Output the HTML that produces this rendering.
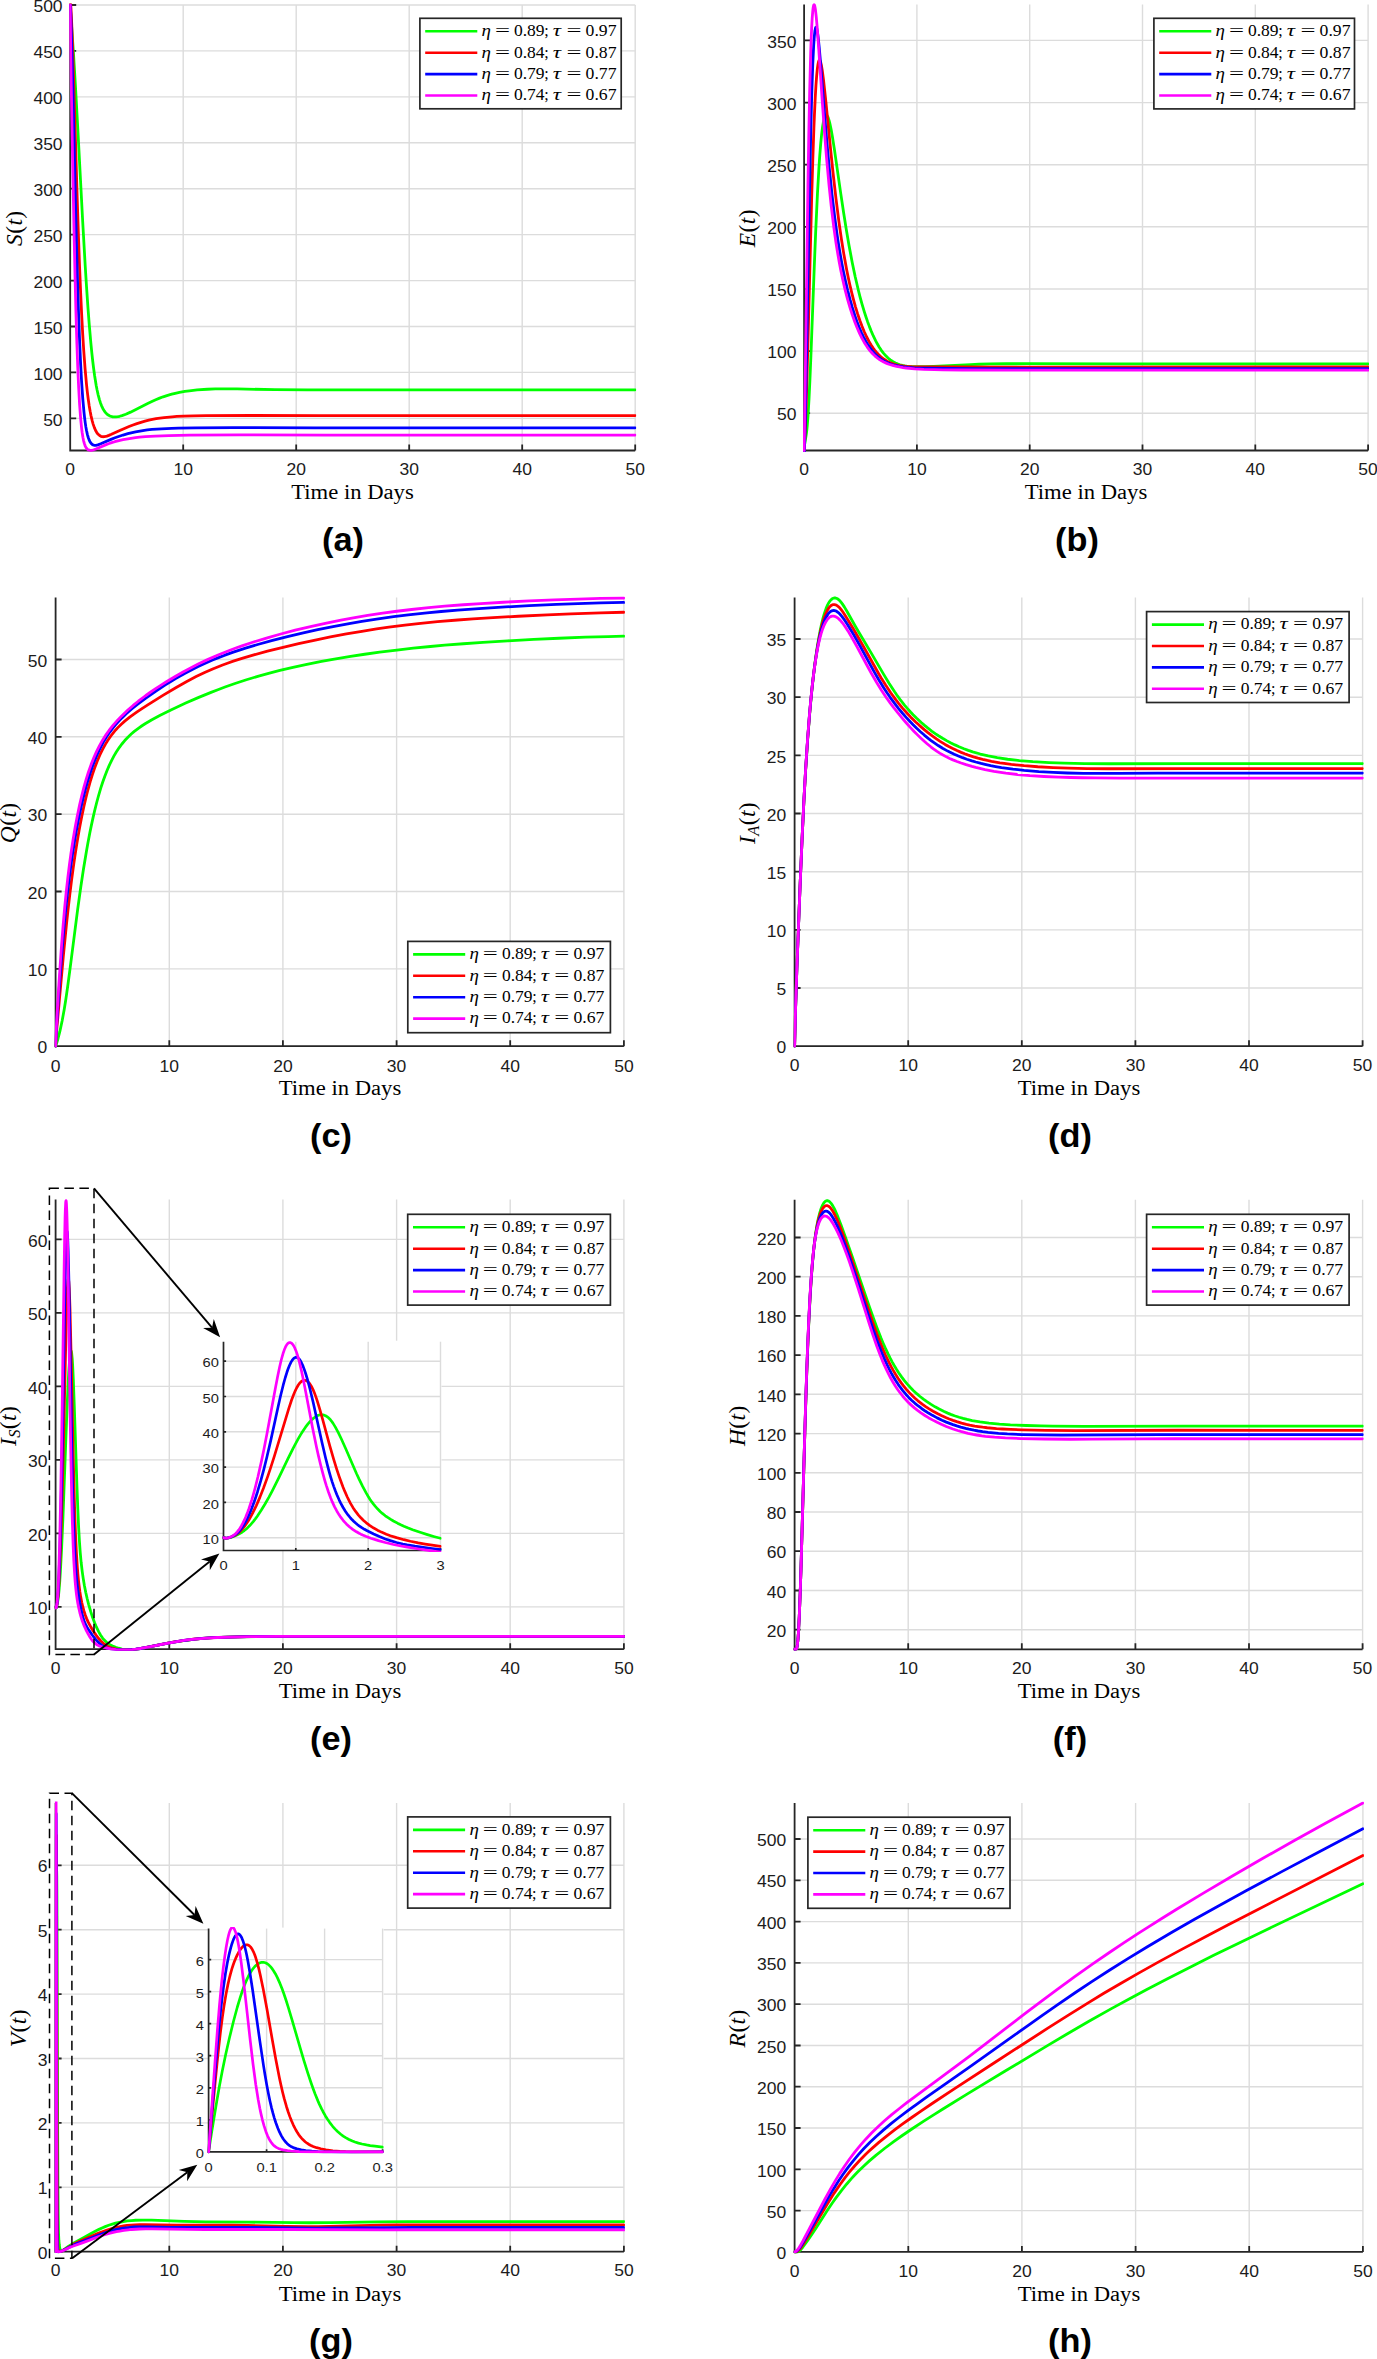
<!DOCTYPE html>
<html><head><meta charset="utf-8"><title>Figure</title>
<style>
html,body{margin:0;padding:0;background:#fff}
svg{display:block}
.tk{font-family:"Liberation Sans",sans-serif;fill:#1c1c1c}
.lg{font-family:"Liberation Serif",serif;font-size:16px;fill:#000}
.it{font-style:italic}
.xl{font-family:"Liberation Serif",serif;font-size:20.5px;fill:#000}
.yl{font-family:"Liberation Serif",serif;font-size:23.5px;fill:#000;font-style:italic;letter-spacing:0.4px}
.up{font-style:normal}
.tag{font-family:"Liberation Sans",sans-serif;font-weight:bold;font-size:33px;fill:#000}
</style></head><body>
<svg width="1377" height="2359" viewBox="0 0 1377 2359">
<rect width="100%" height="100%" fill="#fff"/>
<line x1="183.2" y1="5.0" x2="183.2" y2="450.5" stroke="#dcdcdc" stroke-width="1.4"/>
<line x1="296.2" y1="5.0" x2="296.2" y2="450.5" stroke="#dcdcdc" stroke-width="1.4"/>
<line x1="409.2" y1="5.0" x2="409.2" y2="450.5" stroke="#dcdcdc" stroke-width="1.4"/>
<line x1="522.2" y1="5.0" x2="522.2" y2="450.5" stroke="#dcdcdc" stroke-width="1.4"/>
<line x1="635.2" y1="5.0" x2="635.2" y2="450.5" stroke="#dcdcdc" stroke-width="1.4"/>
<line x1="70.2" y1="418.4" x2="635.2" y2="418.4" stroke="#dcdcdc" stroke-width="1.4"/>
<line x1="70.2" y1="372.4" x2="635.2" y2="372.4" stroke="#dcdcdc" stroke-width="1.4"/>
<line x1="70.2" y1="326.5" x2="635.2" y2="326.5" stroke="#dcdcdc" stroke-width="1.4"/>
<line x1="70.2" y1="280.6" x2="635.2" y2="280.6" stroke="#dcdcdc" stroke-width="1.4"/>
<line x1="70.2" y1="234.6" x2="635.2" y2="234.6" stroke="#dcdcdc" stroke-width="1.4"/>
<line x1="70.2" y1="188.7" x2="635.2" y2="188.7" stroke="#dcdcdc" stroke-width="1.4"/>
<line x1="70.2" y1="142.8" x2="635.2" y2="142.8" stroke="#dcdcdc" stroke-width="1.4"/>
<line x1="70.2" y1="96.9" x2="635.2" y2="96.9" stroke="#dcdcdc" stroke-width="1.4"/>
<line x1="70.2" y1="50.9" x2="635.2" y2="50.9" stroke="#dcdcdc" stroke-width="1.4"/>
<line x1="70.2" y1="5.0" x2="635.2" y2="5.0" stroke="#dcdcdc" stroke-width="1.4"/>
<path d="M70.2,5.0 V450.5 H635.2 M70.2,450.5 v-6.0 M183.2,450.5 v-6.0 M296.2,450.5 v-6.0 M409.2,450.5 v-6.0 M522.2,450.5 v-6.0 M635.2,450.5 v-6.0 M70.2,418.4 h6.0 M70.2,372.4 h6.0 M70.2,326.5 h6.0 M70.2,280.6 h6.0 M70.2,234.6 h6.0 M70.2,188.7 h6.0 M70.2,142.8 h6.0 M70.2,96.9 h6.0 M70.2,50.9 h6.0 M70.2,5.0 h6.0" fill="none" stroke="#262626" stroke-width="1.8" stroke-linecap="butt"/>
<clipPath id="c1"><rect x="69.2" y="3.5" width="567.0" height="448.5"/></clipPath>
<g clip-path="url(#c1)" fill="none" stroke-width="2.8" stroke-linejoin="round" stroke-linecap="round">
<path d="M70.20,5.00 70.80,14.94 73.44,52.90 75.39,85.16 78.02,132.85 82.73,222.22 85.24,266.22 86.52,286.66 87.88,306.56 89.21,324.09 90.86,343.10 91.85,353.10 92.75,361.26 93.54,367.77 94.63,375.77 96.20,385.44 97.09,390.06 98.16,394.86 99.43,399.61 100.57,403.17 101.59,405.81 102.80,408.44 104.24,410.90 105.55,412.64 106.70,413.84 108.29,415.08 109.93,415.97 111.21,416.43 112.74,416.77 114.33,416.91 115.96,416.87 117.90,416.63 119.65,416.27 121.99,415.61 125.83,414.21 130.53,412.14 134.94,409.99 147.67,403.51 152.41,401.24 155.72,399.75 159.59,398.14 163.17,396.80 166.88,395.55 171.72,394.16 175.24,393.28 179.41,392.39 184.84,391.43 189.37,390.78 197.10,389.94 207.27,389.23 215.40,388.92 226.97,388.80 237.03,388.92 274.93,389.65 307.32,389.84 635.20,389.80" stroke="#00ff00"/>
<path d="M70.20,5.00 70.36,3.23 70.44,2.97 70.55,3.21 70.75,4.99 70.95,8.10 71.64,22.38 72.47,43.70 73.86,86.75 77.11,195.67 78.39,234.57 79.59,267.31 80.67,293.39 81.59,313.07 82.73,334.36 83.77,351.00 85.05,368.39 86.52,384.53 87.35,392.11 88.21,398.98 89.21,405.90 90.14,411.35 90.98,415.61 92.23,420.91 93.14,424.10 94.36,427.61 95.62,430.49 96.79,432.54 98.16,434.31 99.59,435.57 100.91,436.29 102.10,436.64 102.80,436.73 104.43,436.69 105.55,436.49 106.90,436.12 108.90,435.39 111.43,434.32 118.64,431.01 124.43,428.47 129.02,426.57 133.01,425.02 136.92,423.62 141.75,422.07 145.03,421.14 148.83,420.19 152.41,419.42 156.14,418.73 160.03,418.12 164.09,417.59 172.22,416.79 176.79,416.47 183.74,416.12 193.47,415.84 205.95,415.67 251.12,415.49 318.80,415.61 635.20,415.60" stroke="#ff0000"/>
<path d="M70.20,5.00 70.25,4.95 70.31,5.11 70.47,6.73 70.78,13.37 71.94,52.30 72.96,93.15 75.74,214.09 77.11,266.84 77.95,295.13 78.78,319.89 79.73,344.41 80.67,364.84 81.59,381.53 82.73,398.21 83.95,411.94 84.58,417.72 85.24,422.82 85.82,426.66 86.52,430.57 87.35,434.33 88.32,437.75 89.10,439.88 90.02,441.79 90.98,443.22 91.60,443.89 92.23,444.42 93.14,444.94 93.81,445.17 94.50,445.29 95.91,445.28 97.85,444.86 100.74,443.79 110.99,439.35 115.02,437.78 118.64,436.48 123.06,435.03 127.84,433.65 131.14,432.80 135.59,431.81 142.83,430.55 147.29,429.96 152.01,429.47 161.36,428.80 171.72,428.37 178.36,428.19 195.27,427.91 233.09,427.66 315.30,427.81 635.20,427.80" stroke="#0000ff"/>
<path d="M70.20,5.00 70.63,43.15 71.28,86.65 72.76,167.23 74.07,233.23 74.99,274.81 75.95,312.47 76.88,343.40 77.71,366.20 78.65,387.53 79.59,404.32 80.67,418.89 81.67,428.79 82.15,432.54 82.90,437.28 83.50,440.29 84.31,443.41 85.05,445.55 85.82,447.20 86.52,448.28 87.14,448.98 87.67,449.43 88.65,449.98 89.91,450.30 91.35,450.29 92.88,450.01 94.50,449.53 95.91,449.01 105.55,444.89 108.49,443.76 111.64,442.68 114.79,441.72 118.89,440.64 123.06,439.71 127.84,438.82 135.59,437.68 139.64,437.22 145.40,436.69 155.30,436.04 168.79,435.53 189.37,435.19 239.43,434.92 325.95,435.12 635.20,435.10" stroke="#ff00ff"/>
</g>
<text transform="translate(70.2,475.1) scale(1.08,1)" font-size="16.2" text-anchor="middle" class="tk">0</text>
<text transform="translate(183.2,475.1) scale(1.08,1)" font-size="16.2" text-anchor="middle" class="tk">10</text>
<text transform="translate(296.2,475.1) scale(1.08,1)" font-size="16.2" text-anchor="middle" class="tk">20</text>
<text transform="translate(409.2,475.1) scale(1.08,1)" font-size="16.2" text-anchor="middle" class="tk">30</text>
<text transform="translate(522.2,475.1) scale(1.08,1)" font-size="16.2" text-anchor="middle" class="tk">40</text>
<text transform="translate(635.2,475.1) scale(1.08,1)" font-size="16.2" text-anchor="middle" class="tk">50</text>
<text transform="translate(62.6,425.5) scale(1.08,1)" font-size="16.2" text-anchor="end" class="tk">50</text>
<text transform="translate(62.6,379.6) scale(1.08,1)" font-size="16.2" text-anchor="end" class="tk">100</text>
<text transform="translate(62.6,333.6) scale(1.08,1)" font-size="16.2" text-anchor="end" class="tk">150</text>
<text transform="translate(62.6,287.7) scale(1.08,1)" font-size="16.2" text-anchor="end" class="tk">200</text>
<text transform="translate(62.6,241.8) scale(1.08,1)" font-size="16.2" text-anchor="end" class="tk">250</text>
<text transform="translate(62.6,195.8) scale(1.08,1)" font-size="16.2" text-anchor="end" class="tk">300</text>
<text transform="translate(62.6,149.9) scale(1.08,1)" font-size="16.2" text-anchor="end" class="tk">350</text>
<text transform="translate(62.6,104.0) scale(1.08,1)" font-size="16.2" text-anchor="end" class="tk">400</text>
<text transform="translate(62.6,58.1) scale(1.08,1)" font-size="16.2" text-anchor="end" class="tk">450</text>
<text transform="translate(62.6,12.1) scale(1.08,1)" font-size="16.2" text-anchor="end" class="tk">500</text>
<rect x="419.9" y="18.3" width="201.3" height="90.5" fill="#fff" stroke="#262626" stroke-width="1.7"/>
<line x1="425.2" y1="31.3" x2="477.3" y2="31.3" stroke="#00ff00" stroke-width="2.6"/>
<text x="481.6" y="36.1" class="lg it" textLength="9.4" lengthAdjust="spacingAndGlyphs">η</text>
<text x="494.9" y="36.1" class="lg" textLength="15" lengthAdjust="spacingAndGlyphs">=</text>
<text x="514.0" y="36.1" class="lg" textLength="30.6" lengthAdjust="spacingAndGlyphs">0.89</text>
<text x="544.3" y="36.1" class="lg">;</text>
<text x="552.8" y="36.1" class="lg it" textLength="8.2" lengthAdjust="spacingAndGlyphs">τ</text>
<text x="566.4" y="36.1" class="lg" textLength="15" lengthAdjust="spacingAndGlyphs">=</text>
<text x="585.6" y="36.1" class="lg" textLength="30.9" lengthAdjust="spacingAndGlyphs">0.97</text>
<line x1="425.2" y1="52.7" x2="477.3" y2="52.7" stroke="#ff0000" stroke-width="2.6"/>
<text x="481.6" y="57.5" class="lg it" textLength="9.4" lengthAdjust="spacingAndGlyphs">η</text>
<text x="494.9" y="57.5" class="lg" textLength="15" lengthAdjust="spacingAndGlyphs">=</text>
<text x="514.0" y="57.5" class="lg" textLength="30.6" lengthAdjust="spacingAndGlyphs">0.84</text>
<text x="544.3" y="57.5" class="lg">;</text>
<text x="552.8" y="57.5" class="lg it" textLength="8.2" lengthAdjust="spacingAndGlyphs">τ</text>
<text x="566.4" y="57.5" class="lg" textLength="15" lengthAdjust="spacingAndGlyphs">=</text>
<text x="585.6" y="57.5" class="lg" textLength="30.9" lengthAdjust="spacingAndGlyphs">0.87</text>
<line x1="425.2" y1="74.1" x2="477.3" y2="74.1" stroke="#0000ff" stroke-width="2.6"/>
<text x="481.6" y="78.9" class="lg it" textLength="9.4" lengthAdjust="spacingAndGlyphs">η</text>
<text x="494.9" y="78.9" class="lg" textLength="15" lengthAdjust="spacingAndGlyphs">=</text>
<text x="514.0" y="78.9" class="lg" textLength="30.6" lengthAdjust="spacingAndGlyphs">0.79</text>
<text x="544.3" y="78.9" class="lg">;</text>
<text x="552.8" y="78.9" class="lg it" textLength="8.2" lengthAdjust="spacingAndGlyphs">τ</text>
<text x="566.4" y="78.9" class="lg" textLength="15" lengthAdjust="spacingAndGlyphs">=</text>
<text x="585.6" y="78.9" class="lg" textLength="30.9" lengthAdjust="spacingAndGlyphs">0.77</text>
<line x1="425.2" y1="95.5" x2="477.3" y2="95.5" stroke="#ff00ff" stroke-width="2.6"/>
<text x="481.6" y="100.3" class="lg it" textLength="9.4" lengthAdjust="spacingAndGlyphs">η</text>
<text x="494.9" y="100.3" class="lg" textLength="15" lengthAdjust="spacingAndGlyphs">=</text>
<text x="514.0" y="100.3" class="lg" textLength="30.6" lengthAdjust="spacingAndGlyphs">0.74</text>
<text x="544.3" y="100.3" class="lg">;</text>
<text x="552.8" y="100.3" class="lg it" textLength="8.2" lengthAdjust="spacingAndGlyphs">τ</text>
<text x="566.4" y="100.3" class="lg" textLength="15" lengthAdjust="spacingAndGlyphs">=</text>
<text x="585.6" y="100.3" class="lg" textLength="30.9" lengthAdjust="spacingAndGlyphs">0.67</text>
<text x="352.5" y="498.5" class="xl" text-anchor="middle" textLength="122.5" lengthAdjust="spacingAndGlyphs">Time in Days</text>
<text transform="translate(21.8,228.2) rotate(-90)" class="yl" text-anchor="middle">S<tspan class="up">(</tspan>t<tspan class="up">)</tspan></text>
<text transform="translate(343.0,551.0) scale(1.04,1)" class="tag" text-anchor="middle">(a)</text>
<line x1="916.9" y1="4.4" x2="916.9" y2="450.5" stroke="#dcdcdc" stroke-width="1.4"/>
<line x1="1029.7" y1="4.4" x2="1029.7" y2="450.5" stroke="#dcdcdc" stroke-width="1.4"/>
<line x1="1142.5" y1="4.4" x2="1142.5" y2="450.5" stroke="#dcdcdc" stroke-width="1.4"/>
<line x1="1255.3" y1="4.4" x2="1255.3" y2="450.5" stroke="#dcdcdc" stroke-width="1.4"/>
<line x1="1368.1" y1="4.4" x2="1368.1" y2="450.5" stroke="#dcdcdc" stroke-width="1.4"/>
<line x1="804.1" y1="413.2" x2="1368.1" y2="413.2" stroke="#dcdcdc" stroke-width="1.4"/>
<line x1="804.1" y1="351.1" x2="1368.1" y2="351.1" stroke="#dcdcdc" stroke-width="1.4"/>
<line x1="804.1" y1="289.0" x2="1368.1" y2="289.0" stroke="#dcdcdc" stroke-width="1.4"/>
<line x1="804.1" y1="226.8" x2="1368.1" y2="226.8" stroke="#dcdcdc" stroke-width="1.4"/>
<line x1="804.1" y1="164.7" x2="1368.1" y2="164.7" stroke="#dcdcdc" stroke-width="1.4"/>
<line x1="804.1" y1="102.6" x2="1368.1" y2="102.6" stroke="#dcdcdc" stroke-width="1.4"/>
<line x1="804.1" y1="40.4" x2="1368.1" y2="40.4" stroke="#dcdcdc" stroke-width="1.4"/>
<path d="M804.1,4.4 V450.5 H1368.1 M804.1,450.5 v-6.0 M916.9,450.5 v-6.0 M1029.7,450.5 v-6.0 M1142.5,450.5 v-6.0 M1255.3,450.5 v-6.0 M1368.1,450.5 v-6.0 M804.1,413.2 h6.0 M804.1,351.1 h6.0 M804.1,289.0 h6.0 M804.1,226.8 h6.0 M804.1,164.7 h6.0 M804.1,102.6 h6.0 M804.1,40.4 h6.0" fill="none" stroke="#262626" stroke-width="1.8" stroke-linecap="butt"/>
<clipPath id="c2"><rect x="803.1" y="2.9" width="566.0" height="449.1"/></clipPath>
<g clip-path="url(#c2)" fill="none" stroke-width="2.8" stroke-linejoin="round" stroke-linecap="round">
<path d="M804.10,450.50 804.31,447.17 804.56,444.73 806.20,434.86 806.73,430.75 807.21,426.09 808.06,415.25 809.02,398.77 809.87,380.92 810.91,355.90 814.29,266.21 815.68,231.87 817.47,193.42 819.09,165.24 819.76,155.52 820.76,143.12 821.60,134.63 822.59,126.78 823.62,120.84 824.46,117.62 824.95,116.35 825.45,115.50 825.84,115.15 826.23,115.03 826.76,115.24 827.30,115.86 827.85,116.89 828.41,118.30 829.13,120.62 829.72,122.90 831.09,129.35 832.36,136.45 834.37,149.13 840.77,193.58 843.75,213.55 846.25,229.27 848.89,244.74 852.21,262.43 855.20,276.72 858.36,290.25 860.16,297.28 862.02,304.04 864.26,311.58 865.91,316.72 867.60,321.66 869.34,326.38 871.12,330.87 873.32,335.94 875.59,340.64 877.14,343.55 879.13,346.94 881.16,350.04 883.25,352.84 885.83,355.83 888.04,358.00 890.31,359.89 893.11,361.78 895.51,363.06 897.47,363.90 899.98,364.75 902.56,365.40 904.67,365.80 906.83,366.11 909.58,366.39 912.98,366.60 917.08,366.70 925.10,366.60 933.68,366.30 970.78,364.54 978.81,364.24 990.11,363.95 1006.30,363.76 1027.34,363.72 1118.60,363.92 1368.10,363.90" stroke="#00ff00"/>
<path d="M804.10,450.50 804.47,445.48 805.37,426.30 805.98,410.14 806.73,386.69 808.06,338.39 811.66,198.08 812.78,160.27 813.88,128.52 814.43,114.82 815.23,97.85 815.99,84.75 816.63,76.10 817.30,69.21 817.99,64.20 818.35,62.44 818.72,61.18 819.09,60.42 819.47,60.16 819.67,60.21 819.96,60.50 820.36,61.31 820.87,62.95 821.29,64.76 822.26,70.39 823.51,79.85 825.84,101.39 830.62,149.57 833.01,172.51 835.95,198.44 838.77,220.62 841.39,238.94 843.75,253.61 846.72,269.89 848.40,278.17 849.89,284.98 851.95,293.66 853.55,299.87 855.48,306.80 857.48,313.39 859.86,320.49 862.02,326.31 864.26,331.74 866.58,336.77 868.99,341.39 871.12,345.00 873.32,348.30 874.83,350.33 876.36,352.22 878.73,354.79 880.34,356.33 881.58,357.39 884.10,359.31 887.15,361.20 889.85,362.54 893.11,363.81 896.48,364.79 898.97,365.33 902.56,365.91 906.28,366.31 911.84,366.65 918.28,366.82 954.99,366.81 1022.74,367.05 1368.10,367.00" stroke="#ff0000"/>
<path d="M804.10,450.50 804.19,451.67 804.24,451.79 804.30,451.52 804.60,445.04 805.07,429.12 805.64,404.99 806.73,348.18 809.63,184.82 810.85,127.85 811.66,96.77 812.78,63.62 813.68,45.27 814.29,36.71 814.86,31.34 815.38,28.42 815.68,27.51 815.99,27.17 816.15,27.20 816.31,27.37 816.72,28.35 817.39,31.52 818.26,38.04 819.19,47.06 820.36,60.58 824.58,114.30 827.02,143.58 829.27,168.12 832.03,194.83 834.71,217.29 837.24,235.66 838.38,243.15 840.16,253.95 841.81,263.13 843.53,271.91 845.56,281.36 847.67,290.36 850.14,299.89 852.21,307.15 854.92,315.72 856.90,321.38 858.96,326.75 861.40,332.49 863.61,337.15 865.91,341.45 868.29,345.37 871.12,349.39 874.07,352.93 875.59,354.52 877.14,355.99 879.13,357.68 880.34,358.60 883.25,360.54 884.96,361.51 887.15,362.60 890.77,364.06 894.54,365.22 898.97,366.21 903.61,366.93 908.47,367.43 914.14,367.79 922.58,368.06 976.09,368.59 1016.01,368.76 1115.35,368.69 1368.10,368.70" stroke="#0000ff"/>
<path d="M804.10,450.50 804.47,430.85 805.30,375.72 807.94,186.09 808.76,136.77 809.63,93.30 810.70,52.84 811.22,37.88 811.66,27.75 812.18,18.45 812.78,10.85 813.16,7.72 813.48,5.95 813.75,5.10 813.95,4.78 814.09,4.72 814.23,4.78 814.43,5.08 814.72,5.90 815.16,7.99 815.46,9.93 816.23,16.67 817.05,25.83 818.63,47.15 822.70,107.41 824.58,133.19 826.62,158.61 828.98,184.57 831.24,206.16 833.68,226.29 835.95,242.45 837.24,250.65 839.16,261.80 840.77,270.26 842.88,280.32 844.87,288.90 847.43,298.83 850.14,308.19 852.21,314.65 854.92,322.28 856.90,327.30 859.56,333.37 862.02,338.36 864.26,342.39 867.26,347.08 869.69,350.33 871.12,352.03 872.95,354.01 874.83,355.82 876.36,357.15 877.93,358.39 879.53,359.52 881.58,360.81 883.68,361.96 886.71,363.36 888.94,364.23 893.58,365.67 896.48,366.38 899.48,366.98 903.08,367.57 906.28,367.99 914.72,368.78 923.84,369.29 934.36,369.63 942.84,369.80 962.28,370.02 1011.64,370.22 1368.10,370.20" stroke="#ff00ff"/>
</g>
<text transform="translate(804.1,475.1) scale(1.08,1)" font-size="16.2" text-anchor="middle" class="tk">0</text>
<text transform="translate(916.9,475.1) scale(1.08,1)" font-size="16.2" text-anchor="middle" class="tk">10</text>
<text transform="translate(1029.7,475.1) scale(1.08,1)" font-size="16.2" text-anchor="middle" class="tk">20</text>
<text transform="translate(1142.5,475.1) scale(1.08,1)" font-size="16.2" text-anchor="middle" class="tk">30</text>
<text transform="translate(1255.3,475.1) scale(1.08,1)" font-size="16.2" text-anchor="middle" class="tk">40</text>
<text transform="translate(1368.1,475.1) scale(1.08,1)" font-size="16.2" text-anchor="middle" class="tk">50</text>
<text transform="translate(796.5,420.4) scale(1.08,1)" font-size="16.2" text-anchor="end" class="tk">50</text>
<text transform="translate(796.5,358.2) scale(1.08,1)" font-size="16.2" text-anchor="end" class="tk">100</text>
<text transform="translate(796.5,296.1) scale(1.08,1)" font-size="16.2" text-anchor="end" class="tk">150</text>
<text transform="translate(796.5,234.0) scale(1.08,1)" font-size="16.2" text-anchor="end" class="tk">200</text>
<text transform="translate(796.5,171.8) scale(1.08,1)" font-size="16.2" text-anchor="end" class="tk">250</text>
<text transform="translate(796.5,109.7) scale(1.08,1)" font-size="16.2" text-anchor="end" class="tk">300</text>
<text transform="translate(796.5,47.6) scale(1.08,1)" font-size="16.2" text-anchor="end" class="tk">350</text>
<rect x="1153.9" y="18.3" width="200.6" height="90.6" fill="#fff" stroke="#262626" stroke-width="1.7"/>
<line x1="1159.2" y1="31.3" x2="1211.3" y2="31.3" stroke="#00ff00" stroke-width="2.6"/>
<text x="1215.6" y="36.1" class="lg it" textLength="9.4" lengthAdjust="spacingAndGlyphs">η</text>
<text x="1228.9" y="36.1" class="lg" textLength="15" lengthAdjust="spacingAndGlyphs">=</text>
<text x="1248.0" y="36.1" class="lg" textLength="30.6" lengthAdjust="spacingAndGlyphs">0.89</text>
<text x="1278.3" y="36.1" class="lg">;</text>
<text x="1286.8" y="36.1" class="lg it" textLength="8.2" lengthAdjust="spacingAndGlyphs">τ</text>
<text x="1300.4" y="36.1" class="lg" textLength="15" lengthAdjust="spacingAndGlyphs">=</text>
<text x="1319.6" y="36.1" class="lg" textLength="30.9" lengthAdjust="spacingAndGlyphs">0.97</text>
<line x1="1159.2" y1="52.7" x2="1211.3" y2="52.7" stroke="#ff0000" stroke-width="2.6"/>
<text x="1215.6" y="57.5" class="lg it" textLength="9.4" lengthAdjust="spacingAndGlyphs">η</text>
<text x="1228.9" y="57.5" class="lg" textLength="15" lengthAdjust="spacingAndGlyphs">=</text>
<text x="1248.0" y="57.5" class="lg" textLength="30.6" lengthAdjust="spacingAndGlyphs">0.84</text>
<text x="1278.3" y="57.5" class="lg">;</text>
<text x="1286.8" y="57.5" class="lg it" textLength="8.2" lengthAdjust="spacingAndGlyphs">τ</text>
<text x="1300.4" y="57.5" class="lg" textLength="15" lengthAdjust="spacingAndGlyphs">=</text>
<text x="1319.6" y="57.5" class="lg" textLength="30.9" lengthAdjust="spacingAndGlyphs">0.87</text>
<line x1="1159.2" y1="74.1" x2="1211.3" y2="74.1" stroke="#0000ff" stroke-width="2.6"/>
<text x="1215.6" y="78.9" class="lg it" textLength="9.4" lengthAdjust="spacingAndGlyphs">η</text>
<text x="1228.9" y="78.9" class="lg" textLength="15" lengthAdjust="spacingAndGlyphs">=</text>
<text x="1248.0" y="78.9" class="lg" textLength="30.6" lengthAdjust="spacingAndGlyphs">0.79</text>
<text x="1278.3" y="78.9" class="lg">;</text>
<text x="1286.8" y="78.9" class="lg it" textLength="8.2" lengthAdjust="spacingAndGlyphs">τ</text>
<text x="1300.4" y="78.9" class="lg" textLength="15" lengthAdjust="spacingAndGlyphs">=</text>
<text x="1319.6" y="78.9" class="lg" textLength="30.9" lengthAdjust="spacingAndGlyphs">0.77</text>
<line x1="1159.2" y1="95.5" x2="1211.3" y2="95.5" stroke="#ff00ff" stroke-width="2.6"/>
<text x="1215.6" y="100.3" class="lg it" textLength="9.4" lengthAdjust="spacingAndGlyphs">η</text>
<text x="1228.9" y="100.3" class="lg" textLength="15" lengthAdjust="spacingAndGlyphs">=</text>
<text x="1248.0" y="100.3" class="lg" textLength="30.6" lengthAdjust="spacingAndGlyphs">0.74</text>
<text x="1278.3" y="100.3" class="lg">;</text>
<text x="1286.8" y="100.3" class="lg it" textLength="8.2" lengthAdjust="spacingAndGlyphs">τ</text>
<text x="1300.4" y="100.3" class="lg" textLength="15" lengthAdjust="spacingAndGlyphs">=</text>
<text x="1319.6" y="100.3" class="lg" textLength="30.9" lengthAdjust="spacingAndGlyphs">0.67</text>
<text x="1086.0" y="498.5" class="xl" text-anchor="middle" textLength="122.5" lengthAdjust="spacingAndGlyphs">Time in Days</text>
<text transform="translate(755.2,228.1) rotate(-90)" class="yl" text-anchor="middle">E<tspan class="up">(</tspan>t<tspan class="up">)</tspan></text>
<text transform="translate(1077.0,551.0) scale(1.04,1)" class="tag" text-anchor="middle">(b)</text>
<line x1="169.3" y1="597.6" x2="169.3" y2="1046.2" stroke="#dcdcdc" stroke-width="1.4"/>
<line x1="282.9" y1="597.6" x2="282.9" y2="1046.2" stroke="#dcdcdc" stroke-width="1.4"/>
<line x1="396.6" y1="597.6" x2="396.6" y2="1046.2" stroke="#dcdcdc" stroke-width="1.4"/>
<line x1="510.2" y1="597.6" x2="510.2" y2="1046.2" stroke="#dcdcdc" stroke-width="1.4"/>
<line x1="623.9" y1="597.6" x2="623.9" y2="1046.2" stroke="#dcdcdc" stroke-width="1.4"/>
<line x1="55.6" y1="968.9" x2="623.9" y2="968.9" stroke="#dcdcdc" stroke-width="1.4"/>
<line x1="55.6" y1="891.5" x2="623.9" y2="891.5" stroke="#dcdcdc" stroke-width="1.4"/>
<line x1="55.6" y1="814.2" x2="623.9" y2="814.2" stroke="#dcdcdc" stroke-width="1.4"/>
<line x1="55.6" y1="736.8" x2="623.9" y2="736.8" stroke="#dcdcdc" stroke-width="1.4"/>
<line x1="55.6" y1="659.5" x2="623.9" y2="659.5" stroke="#dcdcdc" stroke-width="1.4"/>
<path d="M55.6,597.6 V1046.2 H623.9 M55.6,1046.2 v-6.0 M169.3,1046.2 v-6.0 M282.9,1046.2 v-6.0 M396.6,1046.2 v-6.0 M510.2,1046.2 v-6.0 M623.9,1046.2 v-6.0 M55.6,1046.2 h6.0 M55.6,968.9 h6.0 M55.6,891.5 h6.0 M55.6,814.2 h6.0 M55.6,736.8 h6.0 M55.6,659.5 h6.0" fill="none" stroke="#262626" stroke-width="1.8" stroke-linecap="butt"/>
<clipPath id="c3"><rect x="54.6" y="596.1" width="570.3" height="451.6"/></clipPath>
<g clip-path="url(#c3)" fill="none" stroke-width="2.8" stroke-linejoin="round" stroke-linecap="round">
<path d="M55.60,1046.20 56.30,1044.37 57.92,1039.00 59.86,1031.42 62.10,1021.02 64.17,1009.67 65.77,999.67 67.71,986.25 70.26,967.07 77.63,909.63 80.88,886.27 83.41,869.51 86.49,850.92 87.86,843.23 89.84,832.85 91.15,826.38 93.10,817.36 94.52,811.23 96.63,802.76 98.39,796.24 100.68,788.44 102.59,782.51 104.83,776.18 107.16,770.21 109.04,765.83 111.55,760.53 113.87,756.14 116.28,752.04 119.42,747.31 121.70,744.24 124.75,740.57 127.93,737.17 131.24,734.03 134.30,731.41 138.70,728.04 141.62,726.00 145.51,723.48 151.90,719.71 160.23,715.24 170.91,709.94 185.72,703.08 198.18,697.63 211.04,692.35 217.88,689.69 225.01,687.03 234.99,683.51 246.45,679.75 258.61,676.08 269.49,673.06 279.87,670.39 292.98,667.29 305.65,664.55 321.48,661.42 334.32,659.09 350.53,656.40 364.75,654.25 379.63,652.19 396.82,650.04 413.22,648.21 430.40,646.49 444.73,645.21 463.39,643.73 482.94,642.37 507.63,640.86 533.72,639.45 558.94,638.25 585.47,637.21 608.21,636.53 623.90,636.19" stroke="#00ff00"/>
<path d="M55.60,1046.20 56.35,1034.48 57.04,1025.96 63.21,957.38 66.51,923.88 67.95,910.49 69.79,894.50 71.51,880.61 73.06,868.97 74.38,859.67 76.38,846.56 78.15,835.89 79.76,826.87 81.75,816.55 83.88,806.49 85.98,797.43 87.86,790.02 90.21,781.60 92.31,774.78 94.52,768.28 97.28,761.03 99.98,754.76 102.59,749.39 105.34,744.37 107.69,740.53 110.99,735.75 113.87,732.06 115.67,729.96 117.83,727.62 121.04,724.43 124.75,721.10 129.75,717.08 133.53,714.30 137.08,711.82 141.20,709.06 147.75,704.83 163.33,695.16 176.63,687.23 186.35,681.75 196.14,676.61 205.19,672.25 213.29,668.70 222.60,665.01 227.46,663.22 233.29,661.19 242.85,658.11 253.85,654.88 267.47,651.22 283.08,647.34 298.66,643.70 315.28,640.06 330.41,636.97 346.40,633.94 361.85,631.26 376.60,628.94 388.90,627.19 404.93,625.14 418.29,623.62 437.50,621.71 457.70,620.01 473.05,618.90 493.06,617.64 518.32,616.25 547.31,614.86 570.83,613.88 600.52,612.86 623.90,612.24" stroke="#ff0000"/>
<path d="M55.60,1046.20 56.35,1030.40 57.04,1019.19 59.58,983.25 61.33,959.84 62.61,943.90 64.43,923.16 65.91,907.93 67.62,891.95 68.89,881.12 70.92,865.39 72.43,854.79 74.38,842.24 76.38,830.58 78.41,819.79 80.88,807.92 82.95,798.92 85.32,789.54 87.34,782.27 89.84,774.09 92.31,766.82 94.52,760.93 97.28,754.31 99.98,748.53 103.08,742.63 106.11,737.52 109.59,732.32 112.99,727.80 115.67,724.57 117.52,722.48 121.70,718.11 126.50,713.55 132.00,708.78 137.08,704.68 145.51,698.32 155.25,691.49 164.92,685.14 170.35,681.75 176.05,678.34 185.10,673.23 192.80,669.18 198.18,666.52 203.06,664.22 212.54,660.06 217.88,657.88 224.20,655.44 233.29,652.17 245.54,648.14 257.65,644.51 272.56,640.41 287.43,636.63 303.30,632.88 317.74,629.72 333.01,626.61 349.15,623.59 361.85,621.41 376.60,619.10 393.63,616.72 408.22,614.90 426.90,612.86 441.09,611.50 457.70,610.10 478.96,608.56 505.52,606.94 529.27,605.69 556.59,604.43 578.10,603.60 600.52,602.92 623.90,602.43" stroke="#0000ff"/>
<path d="M55.60,1046.20 56.35,1027.51 57.04,1014.45 58.85,985.10 60.37,961.98 61.65,944.03 63.21,924.27 64.70,907.44 66.21,892.25 67.95,876.62 69.43,864.77 70.92,853.81 73.06,839.70 75.30,826.55 77.25,816.24 79.62,804.91 81.75,795.73 83.88,787.41 86.15,779.38 88.39,772.23 91.15,764.37 94.11,756.95 96.63,751.34 99.52,745.59 102.59,740.15 106.11,734.62 109.04,730.48 112.99,725.43 117.83,719.91 121.70,715.89 127.57,710.30 133.14,705.43 138.29,701.23 145.51,695.74 150.03,692.50 155.25,688.92 160.74,685.31 165.98,682.00 176.05,675.97 182.62,672.25 188.26,669.18 198.18,664.08 208.09,659.37 218.66,654.76 229.93,650.26 235.85,648.05 241.96,645.88 251.97,642.52 266.47,638.04 279.87,634.24 295.24,630.21 311.63,626.28 325.27,623.28 340.97,620.12 353.32,617.84 367.67,615.43 382.69,613.16 396.82,611.26 411.55,609.49 428.65,607.69 444.73,606.22 463.39,604.75 480.95,603.56 503.42,602.25 529.27,600.95 554.26,599.87 578.10,599.03 600.52,598.44 623.90,598.06" stroke="#ff00ff"/>
</g>
<text transform="translate(55.6,1071.6) scale(1.08,1)" font-size="16.2" text-anchor="middle" class="tk">0</text>
<text transform="translate(169.3,1071.6) scale(1.08,1)" font-size="16.2" text-anchor="middle" class="tk">10</text>
<text transform="translate(282.9,1071.6) scale(1.08,1)" font-size="16.2" text-anchor="middle" class="tk">20</text>
<text transform="translate(396.6,1071.6) scale(1.08,1)" font-size="16.2" text-anchor="middle" class="tk">30</text>
<text transform="translate(510.2,1071.6) scale(1.08,1)" font-size="16.2" text-anchor="middle" class="tk">40</text>
<text transform="translate(623.9,1071.6) scale(1.08,1)" font-size="16.2" text-anchor="middle" class="tk">50</text>
<text transform="translate(47.3,1053.3) scale(1.08,1)" font-size="16.2" text-anchor="end" class="tk">0</text>
<text transform="translate(47.3,976.0) scale(1.08,1)" font-size="16.2" text-anchor="end" class="tk">10</text>
<text transform="translate(47.3,898.6) scale(1.08,1)" font-size="16.2" text-anchor="end" class="tk">20</text>
<text transform="translate(47.3,821.3) scale(1.08,1)" font-size="16.2" text-anchor="end" class="tk">30</text>
<text transform="translate(47.3,744.0) scale(1.08,1)" font-size="16.2" text-anchor="end" class="tk">40</text>
<text transform="translate(47.3,666.6) scale(1.08,1)" font-size="16.2" text-anchor="end" class="tk">50</text>
<rect x="407.8" y="941.4" width="202.6" height="91.3" fill="#fff" stroke="#262626" stroke-width="1.7"/>
<line x1="413.1" y1="954.4" x2="465.2" y2="954.4" stroke="#00ff00" stroke-width="2.6"/>
<text x="469.5" y="959.2" class="lg it" textLength="9.4" lengthAdjust="spacingAndGlyphs">η</text>
<text x="482.8" y="959.2" class="lg" textLength="15" lengthAdjust="spacingAndGlyphs">=</text>
<text x="501.9" y="959.2" class="lg" textLength="30.6" lengthAdjust="spacingAndGlyphs">0.89</text>
<text x="532.2" y="959.2" class="lg">;</text>
<text x="540.7" y="959.2" class="lg it" textLength="8.2" lengthAdjust="spacingAndGlyphs">τ</text>
<text x="554.3" y="959.2" class="lg" textLength="15" lengthAdjust="spacingAndGlyphs">=</text>
<text x="573.5" y="959.2" class="lg" textLength="30.9" lengthAdjust="spacingAndGlyphs">0.97</text>
<line x1="413.1" y1="975.8" x2="465.2" y2="975.8" stroke="#ff0000" stroke-width="2.6"/>
<text x="469.5" y="980.6" class="lg it" textLength="9.4" lengthAdjust="spacingAndGlyphs">η</text>
<text x="482.8" y="980.6" class="lg" textLength="15" lengthAdjust="spacingAndGlyphs">=</text>
<text x="501.9" y="980.6" class="lg" textLength="30.6" lengthAdjust="spacingAndGlyphs">0.84</text>
<text x="532.2" y="980.6" class="lg">;</text>
<text x="540.7" y="980.6" class="lg it" textLength="8.2" lengthAdjust="spacingAndGlyphs">τ</text>
<text x="554.3" y="980.6" class="lg" textLength="15" lengthAdjust="spacingAndGlyphs">=</text>
<text x="573.5" y="980.6" class="lg" textLength="30.9" lengthAdjust="spacingAndGlyphs">0.87</text>
<line x1="413.1" y1="997.2" x2="465.2" y2="997.2" stroke="#0000ff" stroke-width="2.6"/>
<text x="469.5" y="1002.0" class="lg it" textLength="9.4" lengthAdjust="spacingAndGlyphs">η</text>
<text x="482.8" y="1002.0" class="lg" textLength="15" lengthAdjust="spacingAndGlyphs">=</text>
<text x="501.9" y="1002.0" class="lg" textLength="30.6" lengthAdjust="spacingAndGlyphs">0.79</text>
<text x="532.2" y="1002.0" class="lg">;</text>
<text x="540.7" y="1002.0" class="lg it" textLength="8.2" lengthAdjust="spacingAndGlyphs">τ</text>
<text x="554.3" y="1002.0" class="lg" textLength="15" lengthAdjust="spacingAndGlyphs">=</text>
<text x="573.5" y="1002.0" class="lg" textLength="30.9" lengthAdjust="spacingAndGlyphs">0.77</text>
<line x1="413.1" y1="1018.6" x2="465.2" y2="1018.6" stroke="#ff00ff" stroke-width="2.6"/>
<text x="469.5" y="1023.4" class="lg it" textLength="9.4" lengthAdjust="spacingAndGlyphs">η</text>
<text x="482.8" y="1023.4" class="lg" textLength="15" lengthAdjust="spacingAndGlyphs">=</text>
<text x="501.9" y="1023.4" class="lg" textLength="30.6" lengthAdjust="spacingAndGlyphs">0.74</text>
<text x="532.2" y="1023.4" class="lg">;</text>
<text x="540.7" y="1023.4" class="lg it" textLength="8.2" lengthAdjust="spacingAndGlyphs">τ</text>
<text x="554.3" y="1023.4" class="lg" textLength="15" lengthAdjust="spacingAndGlyphs">=</text>
<text x="573.5" y="1023.4" class="lg" textLength="30.9" lengthAdjust="spacingAndGlyphs">0.67</text>
<text x="340.0" y="1095.0" class="xl" text-anchor="middle" textLength="122.5" lengthAdjust="spacingAndGlyphs">Time in Days</text>
<text transform="translate(16.3,822.8) rotate(-90)" class="yl" text-anchor="middle">Q<tspan class="up">(</tspan>t<tspan class="up">)</tspan></text>
<text transform="translate(331.0,1147.0) scale(1.04,1)" class="tag" text-anchor="middle">(c)</text>
<line x1="908.2" y1="597.6" x2="908.2" y2="1046.2" stroke="#dcdcdc" stroke-width="1.4"/>
<line x1="1021.8" y1="597.6" x2="1021.8" y2="1046.2" stroke="#dcdcdc" stroke-width="1.4"/>
<line x1="1135.4" y1="597.6" x2="1135.4" y2="1046.2" stroke="#dcdcdc" stroke-width="1.4"/>
<line x1="1249.0" y1="597.6" x2="1249.0" y2="1046.2" stroke="#dcdcdc" stroke-width="1.4"/>
<line x1="1362.6" y1="597.6" x2="1362.6" y2="1046.2" stroke="#dcdcdc" stroke-width="1.4"/>
<line x1="794.6" y1="988.0" x2="1362.6" y2="988.0" stroke="#dcdcdc" stroke-width="1.4"/>
<line x1="794.6" y1="929.9" x2="1362.6" y2="929.9" stroke="#dcdcdc" stroke-width="1.4"/>
<line x1="794.6" y1="871.7" x2="1362.6" y2="871.7" stroke="#dcdcdc" stroke-width="1.4"/>
<line x1="794.6" y1="813.5" x2="1362.6" y2="813.5" stroke="#dcdcdc" stroke-width="1.4"/>
<line x1="794.6" y1="755.4" x2="1362.6" y2="755.4" stroke="#dcdcdc" stroke-width="1.4"/>
<line x1="794.6" y1="697.2" x2="1362.6" y2="697.2" stroke="#dcdcdc" stroke-width="1.4"/>
<line x1="794.6" y1="639.0" x2="1362.6" y2="639.0" stroke="#dcdcdc" stroke-width="1.4"/>
<path d="M794.6,597.6 V1046.2 H1362.6 M794.6,1046.2 v-6.0 M908.2,1046.2 v-6.0 M1021.8,1046.2 v-6.0 M1135.4,1046.2 v-6.0 M1249.0,1046.2 v-6.0 M1362.6,1046.2 v-6.0 M794.6,1046.2 h6.0 M794.6,988.0 h6.0 M794.6,929.9 h6.0 M794.6,871.7 h6.0 M794.6,813.5 h6.0 M794.6,755.4 h6.0 M794.6,697.2 h6.0 M794.6,639.0 h6.0" fill="none" stroke="#262626" stroke-width="1.8" stroke-linecap="butt"/>
<clipPath id="c4"><rect x="793.6" y="596.1" width="570.0" height="451.6"/></clipPath>
<g clip-path="url(#c4)" fill="none" stroke-width="2.8" stroke-linejoin="round" stroke-linecap="round">
<path d="M794.60,1046.20 795.43,1012.45 796.85,968.38 800.01,887.06 802.11,837.93 803.98,799.57 805.59,770.85 807.71,738.66 809.61,714.41 811.77,691.10 813.15,678.18 814.35,668.02 815.60,658.41 817.03,648.49 818.39,640.11 820.09,630.91 821.57,623.99 822.95,618.38 824.38,613.39 826.20,608.17 827.75,604.65 828.82,602.70 829.54,601.58 830.46,600.39 831.21,599.60 832.16,598.83 832.94,598.39 834.13,598.02 835.14,597.99 836.38,598.27 837.44,598.77 838.30,599.35 839.61,600.52 841.19,602.33 842.34,603.88 844.47,607.13 846.93,611.28 855.47,626.48 859.27,633.05 870.84,652.38 883.38,673.86 889.05,683.19 894.61,691.75 896.82,694.96 899.99,699.33 904.68,705.30 907.09,708.15 910.55,712.02 913.08,714.69 916.71,718.31 921.52,722.77 924.27,725.15 927.64,727.92 931.68,731.02 935.22,733.56 938.85,735.99 942.57,738.31 947.02,740.87 950.94,742.94 954.94,744.90 959.05,746.74 963.96,748.74 968.28,750.33 972.70,751.81 980.30,754.02 988.21,755.93 997.28,757.69 1007.63,759.25 1019.41,760.58 1032.79,761.68 1049.01,762.60 1064.07,763.15 1084.69,763.57 1109.37,763.74 1188.19,763.58 1362.60,763.60" stroke="#00ff00"/>
<path d="M794.60,1046.20 795.43,1012.75 796.85,968.79 800.01,887.27 802.11,837.87 803.98,799.27 805.59,770.37 807.71,738.05 809.61,713.82 810.56,703.12 811.77,690.73 813.15,678.06 814.35,668.19 815.60,658.95 817.03,649.52 818.25,642.41 819.37,636.56 820.82,629.87 822.33,623.91 823.90,618.70 825.53,614.24 826.54,611.94 827.23,610.57 828.64,608.23 830.09,606.44 830.83,605.76 831.97,605.03 833.14,604.63 834.33,604.57 835.55,604.84 836.80,605.43 838.30,606.52 839.61,607.79 840.96,609.35 842.57,611.50 844.23,613.95 846.43,617.44 852.69,627.82 857.20,635.48 863.89,647.23 878.01,672.49 881.04,677.67 885.77,685.33 890.73,692.76 895.93,699.91 898.62,703.37 902.31,707.85 907.58,713.76 910.55,716.88 915.66,721.92 919.36,725.34 924.27,729.61 927.64,732.37 932.26,735.92 936.42,738.89 940.08,741.33 945.10,744.41 948.32,746.23 952.26,748.31 956.98,750.58 961.14,752.39 964.67,753.79 968.28,755.11 973.45,756.81 977.99,758.13 982.64,759.34 987.41,760.44 991.47,761.28 999.83,762.76 1004.13,763.41 1011.20,764.34 1024.11,765.69 1037.75,766.77 1053.23,767.64 1068.52,768.22 1087.07,768.61 1108.09,768.77 1199.50,768.57 1362.60,768.60" stroke="#ff0000"/>
<path d="M794.60,1046.20 795.43,1012.98 796.85,969.11 800.01,887.44 802.11,837.84 803.98,799.04 805.59,770.00 807.52,740.26 809.30,717.03 810.56,702.73 811.66,691.55 812.45,684.13 813.75,673.14 814.97,663.89 816.38,654.51 817.57,647.50 818.95,640.39 820.38,634.04 821.87,628.45 823.42,623.60 824.87,619.87 826.37,616.74 827.93,614.22 829.00,612.88 829.72,612.15 830.46,611.55 831.21,611.08 832.55,610.58 833.93,610.49 834.53,610.57 835.55,610.87 836.80,611.49 838.30,612.56 840.06,614.22 841.87,616.33 843.75,618.83 845.20,620.93 847.94,625.19 854.07,635.40 859.57,645.15 870.49,665.19 875.07,673.38 878.76,679.72 884.17,688.49 886.99,692.77 890.31,697.57 895.93,705.14 898.62,708.55 902.31,713.00 906.12,717.35 909.06,720.54 913.08,724.70 916.71,728.25 920.44,731.71 924.27,735.07 928.21,738.31 931.09,740.54 934.03,742.69 938.24,745.55 942.57,748.23 946.38,750.37 949.62,752.06 954.27,754.27 958.36,756.03 962.54,757.68 966.83,759.22 971.95,760.88 975.70,761.98 981.08,763.41 985.01,764.35 990.65,765.57 995.60,766.51 1001.54,767.52 1013.00,769.13 1024.11,770.35 1038.76,771.58 1053.23,772.44 1067.40,772.99 1083.50,773.33 1101.76,773.46 1118.48,773.42 1157.54,773.15 1188.19,773.06 1362.60,773.10" stroke="#0000ff"/>
<path d="M794.60,1046.20 795.43,1013.21 796.85,969.41 800.01,887.58 802.11,837.77 803.98,798.77 805.59,769.59 807.52,739.76 809.30,716.54 810.56,702.32 811.55,692.34 812.45,683.97 813.63,674.17 814.72,666.00 815.73,659.26 817.03,651.54 818.39,644.60 819.80,638.45 821.12,633.59 822.64,628.92 824.06,625.34 825.53,622.35 826.37,620.93 827.23,619.69 828.28,618.43 829.00,617.73 829.72,617.16 830.65,616.60 831.21,616.36 832.16,616.11 833.53,616.08 834.94,616.41 835.96,616.86 836.80,617.35 838.30,618.46 840.06,620.12 842.34,622.76 843.99,624.95 846.18,628.14 847.94,630.89 852.14,637.95 856.91,646.52 866.14,663.78 871.18,672.99 876.53,682.27 881.43,690.22 886.58,697.94 890.31,703.14 893.73,707.68 897.72,712.73 902.78,718.85 906.12,722.72 910.05,727.10 914.11,731.42 917.77,735.13 920.98,738.25 924.27,741.29 927.07,743.75 931.09,747.04 933.44,748.83 937.03,751.37 940.08,753.34 942.57,754.81 946.38,756.86 949.62,758.43 952.93,759.89 956.98,761.51 961.14,763.02 966.10,764.65 971.95,766.37 975.70,767.37 985.01,769.54 993.94,771.27 998.97,772.11 1005.88,773.12 1017.56,774.51 1029.86,775.61 1043.83,776.50 1058.60,777.14 1070.78,777.50 1082.32,777.74 1095.55,777.92 1119.80,778.08 1362.60,778.10" stroke="#ff00ff"/>
</g>
<text transform="translate(794.6,1070.8) scale(1.08,1)" font-size="16.2" text-anchor="middle" class="tk">0</text>
<text transform="translate(908.2,1070.8) scale(1.08,1)" font-size="16.2" text-anchor="middle" class="tk">10</text>
<text transform="translate(1021.8,1070.8) scale(1.08,1)" font-size="16.2" text-anchor="middle" class="tk">20</text>
<text transform="translate(1135.4,1070.8) scale(1.08,1)" font-size="16.2" text-anchor="middle" class="tk">30</text>
<text transform="translate(1249.0,1070.8) scale(1.08,1)" font-size="16.2" text-anchor="middle" class="tk">40</text>
<text transform="translate(1362.6,1070.8) scale(1.08,1)" font-size="16.2" text-anchor="middle" class="tk">50</text>
<text transform="translate(786.3,1053.3) scale(1.08,1)" font-size="16.2" text-anchor="end" class="tk">0</text>
<text transform="translate(786.3,995.2) scale(1.08,1)" font-size="16.2" text-anchor="end" class="tk">5</text>
<text transform="translate(786.3,937.0) scale(1.08,1)" font-size="16.2" text-anchor="end" class="tk">10</text>
<text transform="translate(786.3,878.8) scale(1.08,1)" font-size="16.2" text-anchor="end" class="tk">15</text>
<text transform="translate(786.3,820.7) scale(1.08,1)" font-size="16.2" text-anchor="end" class="tk">20</text>
<text transform="translate(786.3,762.5) scale(1.08,1)" font-size="16.2" text-anchor="end" class="tk">25</text>
<text transform="translate(786.3,704.3) scale(1.08,1)" font-size="16.2" text-anchor="end" class="tk">30</text>
<text transform="translate(786.3,646.1) scale(1.08,1)" font-size="16.2" text-anchor="end" class="tk">35</text>
<rect x="1146.6" y="611.6" width="202.5" height="90.9" fill="#fff" stroke="#262626" stroke-width="1.7"/>
<line x1="1151.9" y1="624.6" x2="1204.0" y2="624.6" stroke="#00ff00" stroke-width="2.6"/>
<text x="1208.3" y="629.4" class="lg it" textLength="9.4" lengthAdjust="spacingAndGlyphs">η</text>
<text x="1221.6" y="629.4" class="lg" textLength="15" lengthAdjust="spacingAndGlyphs">=</text>
<text x="1240.7" y="629.4" class="lg" textLength="30.6" lengthAdjust="spacingAndGlyphs">0.89</text>
<text x="1271.0" y="629.4" class="lg">;</text>
<text x="1279.5" y="629.4" class="lg it" textLength="8.2" lengthAdjust="spacingAndGlyphs">τ</text>
<text x="1293.1" y="629.4" class="lg" textLength="15" lengthAdjust="spacingAndGlyphs">=</text>
<text x="1312.3" y="629.4" class="lg" textLength="30.9" lengthAdjust="spacingAndGlyphs">0.97</text>
<line x1="1151.9" y1="646.0" x2="1204.0" y2="646.0" stroke="#ff0000" stroke-width="2.6"/>
<text x="1208.3" y="650.8" class="lg it" textLength="9.4" lengthAdjust="spacingAndGlyphs">η</text>
<text x="1221.6" y="650.8" class="lg" textLength="15" lengthAdjust="spacingAndGlyphs">=</text>
<text x="1240.7" y="650.8" class="lg" textLength="30.6" lengthAdjust="spacingAndGlyphs">0.84</text>
<text x="1271.0" y="650.8" class="lg">;</text>
<text x="1279.5" y="650.8" class="lg it" textLength="8.2" lengthAdjust="spacingAndGlyphs">τ</text>
<text x="1293.1" y="650.8" class="lg" textLength="15" lengthAdjust="spacingAndGlyphs">=</text>
<text x="1312.3" y="650.8" class="lg" textLength="30.9" lengthAdjust="spacingAndGlyphs">0.87</text>
<line x1="1151.9" y1="667.4" x2="1204.0" y2="667.4" stroke="#0000ff" stroke-width="2.6"/>
<text x="1208.3" y="672.2" class="lg it" textLength="9.4" lengthAdjust="spacingAndGlyphs">η</text>
<text x="1221.6" y="672.2" class="lg" textLength="15" lengthAdjust="spacingAndGlyphs">=</text>
<text x="1240.7" y="672.2" class="lg" textLength="30.6" lengthAdjust="spacingAndGlyphs">0.79</text>
<text x="1271.0" y="672.2" class="lg">;</text>
<text x="1279.5" y="672.2" class="lg it" textLength="8.2" lengthAdjust="spacingAndGlyphs">τ</text>
<text x="1293.1" y="672.2" class="lg" textLength="15" lengthAdjust="spacingAndGlyphs">=</text>
<text x="1312.3" y="672.2" class="lg" textLength="30.9" lengthAdjust="spacingAndGlyphs">0.77</text>
<line x1="1151.9" y1="688.8" x2="1204.0" y2="688.8" stroke="#ff00ff" stroke-width="2.6"/>
<text x="1208.3" y="693.6" class="lg it" textLength="9.4" lengthAdjust="spacingAndGlyphs">η</text>
<text x="1221.6" y="693.6" class="lg" textLength="15" lengthAdjust="spacingAndGlyphs">=</text>
<text x="1240.7" y="693.6" class="lg" textLength="30.6" lengthAdjust="spacingAndGlyphs">0.74</text>
<text x="1271.0" y="693.6" class="lg">;</text>
<text x="1279.5" y="693.6" class="lg it" textLength="8.2" lengthAdjust="spacingAndGlyphs">τ</text>
<text x="1293.1" y="693.6" class="lg" textLength="15" lengthAdjust="spacingAndGlyphs">=</text>
<text x="1312.3" y="693.6" class="lg" textLength="30.9" lengthAdjust="spacingAndGlyphs">0.67</text>
<text x="1079.0" y="1095.0" class="xl" text-anchor="middle" textLength="122.5" lengthAdjust="spacingAndGlyphs">Time in Days</text>
<text transform="translate(755.1,823.0) rotate(-90)" class="yl" text-anchor="middle">I<tspan class="sub" dy="3.5" font-size="16.5">A</tspan><tspan class="up" dy="-3.5">(</tspan>t<tspan class="up">)</tspan></text>
<text transform="translate(1070.0,1147.0) scale(1.04,1)" class="tag" text-anchor="middle">(d)</text>
<line x1="169.3" y1="1199.6" x2="169.3" y2="1649.2" stroke="#dcdcdc" stroke-width="1.4"/>
<line x1="282.9" y1="1199.6" x2="282.9" y2="1649.2" stroke="#dcdcdc" stroke-width="1.4"/>
<line x1="396.6" y1="1199.6" x2="396.6" y2="1649.2" stroke="#dcdcdc" stroke-width="1.4"/>
<line x1="510.2" y1="1199.6" x2="510.2" y2="1649.2" stroke="#dcdcdc" stroke-width="1.4"/>
<line x1="623.9" y1="1199.6" x2="623.9" y2="1649.2" stroke="#dcdcdc" stroke-width="1.4"/>
<line x1="55.6" y1="1606.9" x2="623.9" y2="1606.9" stroke="#dcdcdc" stroke-width="1.4"/>
<line x1="55.6" y1="1533.4" x2="623.9" y2="1533.4" stroke="#dcdcdc" stroke-width="1.4"/>
<line x1="55.6" y1="1459.9" x2="623.9" y2="1459.9" stroke="#dcdcdc" stroke-width="1.4"/>
<line x1="55.6" y1="1386.4" x2="623.9" y2="1386.4" stroke="#dcdcdc" stroke-width="1.4"/>
<line x1="55.6" y1="1312.9" x2="623.9" y2="1312.9" stroke="#dcdcdc" stroke-width="1.4"/>
<line x1="55.6" y1="1239.4" x2="623.9" y2="1239.4" stroke="#dcdcdc" stroke-width="1.4"/>
<path d="M55.6,1199.6 V1649.2 H623.9 M55.6,1649.2 v-6.0 M169.3,1649.2 v-6.0 M282.9,1649.2 v-6.0 M396.6,1649.2 v-6.0 M510.2,1649.2 v-6.0 M623.9,1649.2 v-6.0 M55.6,1606.9 h6.0 M55.6,1533.4 h6.0 M55.6,1459.9 h6.0 M55.6,1386.4 h6.0 M55.6,1312.9 h6.0 M55.6,1239.4 h6.0" fill="none" stroke="#262626" stroke-width="1.8" stroke-linecap="butt"/>
<clipPath id="c5"><rect x="54.6" y="1198.1" width="570.3" height="452.6"/></clipPath>
<g clip-path="url(#c5)" fill="none" stroke-width="2.8" stroke-linejoin="round" stroke-linecap="round">
<path d="M55.60,1606.90 55.79,1607.76 55.90,1607.97 56.02,1607.99 56.25,1607.68 56.63,1606.61 57.44,1603.03 58.11,1598.69 58.59,1594.72 59.21,1588.33 59.76,1581.20 60.37,1571.74 61.66,1547.09 62.95,1517.38 66.54,1420.69 67.38,1399.99 68.19,1382.39 68.75,1372.05 69.62,1359.57 70.07,1355.06 70.37,1352.87 70.68,1351.45 70.84,1351.07 70.99,1350.92 71.15,1351.02 71.31,1351.38 71.63,1352.93 72.21,1358.59 72.71,1366.71 73.31,1379.68 74.28,1405.85 76.92,1485.48 77.82,1509.29 78.65,1527.62 79.39,1540.79 80.26,1552.89 81.15,1562.52 82.30,1572.12 83.25,1578.65 84.34,1585.16 85.72,1592.20 87.15,1598.52 88.63,1604.36 90.73,1611.66 92.63,1617.46 94.61,1622.80 96.34,1626.94 98.63,1631.67 100.67,1635.22 102.42,1637.79 104.04,1639.81 106.27,1642.05 108.57,1643.85 111.15,1645.39 113.40,1646.43 115.72,1647.29 118.78,1648.22 121.94,1649.03 124.51,1649.53 126.43,1649.78 128.63,1649.92 131.64,1649.85 135.54,1649.44 140.40,1648.61 156.29,1645.33 172.14,1642.43 183.67,1640.56 193.23,1639.28 202.88,1638.33 213.00,1637.66 225.43,1637.17 243.40,1636.77 263.20,1636.51 286.13,1636.42 623.90,1636.45" stroke="#00ff00"/>
<path d="M55.60,1606.90 55.83,1607.70 55.94,1607.79 56.06,1607.74 56.44,1606.88 56.78,1605.58 57.44,1601.59 57.99,1596.39 58.47,1590.26 58.96,1582.40 59.59,1569.93 60.15,1556.62 61.47,1517.96 62.54,1479.74 63.58,1437.90 65.98,1332.80 66.54,1311.54 66.99,1297.68 67.38,1288.43 67.85,1281.45 68.06,1279.83 68.19,1279.25 68.33,1279.06 68.54,1279.56 68.83,1281.74 69.26,1288.41 70.00,1309.24 70.92,1348.12 73.13,1453.39 73.92,1484.94 74.82,1515.46 75.47,1533.32 76.33,1551.77 77.32,1567.37 77.82,1573.64 78.44,1580.13 79.07,1585.76 79.82,1591.46 80.59,1596.36 81.72,1602.25 82.77,1606.74 83.85,1610.70 85.34,1615.29 86.63,1618.62 88.22,1622.15 90.73,1626.83 93.08,1630.70 96.02,1635.08 98.63,1638.50 100.84,1641.02 103.32,1643.37 105.70,1645.15 107.79,1646.36 110.34,1647.49 112.57,1648.21 115.51,1648.88 118.55,1649.35 122.41,1649.74 125.71,1649.89 129.63,1649.82 132.41,1649.62 135.27,1649.31 140.95,1648.46 148.98,1646.96 167.68,1643.24 174.60,1641.97 185.16,1640.28 193.23,1639.25 202.05,1638.40 214.30,1637.62 228.18,1637.11 246.85,1636.71 261.62,1636.52 279.40,1636.43 623.90,1636.45" stroke="#ff0000"/>
<path d="M55.60,1606.90 55.79,1607.61 55.94,1607.77 56.06,1607.71 56.40,1606.93 56.78,1605.39 57.40,1601.10 57.91,1595.45 58.39,1588.04 58.92,1577.32 59.89,1550.67 60.82,1516.59 61.90,1466.86 62.95,1409.00 64.62,1308.47 65.32,1273.08 65.80,1253.80 66.23,1241.09 66.67,1233.30 66.86,1231.72 66.99,1231.31 67.06,1231.31 67.25,1232.13 67.45,1234.28 67.79,1240.78 68.13,1250.66 68.83,1279.16 69.70,1325.52 71.79,1449.07 72.37,1477.46 72.96,1501.77 73.74,1527.39 74.55,1547.52 75.47,1564.57 76.33,1576.14 77.02,1583.26 77.82,1589.97 78.86,1597.11 79.82,1603.00 81.15,1610.04 81.95,1613.63 82.89,1617.20 84.22,1621.21 85.72,1624.71 87.15,1627.40 89.18,1630.68 92.04,1634.74 95.23,1638.90 97.31,1641.30 99.64,1643.61 101.89,1645.42 103.86,1646.65 105.70,1647.51 108.37,1648.37 111.35,1648.98 115.72,1649.48 122.64,1649.87 126.67,1649.91 130.13,1649.77 135.54,1649.25 140.68,1648.50 147.80,1647.21 165.33,1643.70 173.89,1642.09 183.67,1640.49 192.84,1639.29 202.05,1638.40 213.00,1637.69 228.64,1637.10 246.85,1636.71 261.62,1636.52 279.40,1636.43 623.90,1636.45" stroke="#0000ff"/>
<path d="M55.60,1606.90 55.79,1607.81 55.90,1608.01 56.02,1608.00 56.25,1607.53 56.63,1605.93 57.13,1602.38 57.75,1594.91 58.19,1587.21 58.63,1577.02 59.59,1546.65 60.55,1504.52 61.47,1453.62 62.44,1389.99 64.06,1274.21 64.62,1239.85 65.08,1218.40 65.32,1210.52 65.68,1202.95 65.86,1201.12 66.04,1200.61 66.23,1201.41 66.42,1203.53 66.80,1211.77 67.19,1225.35 67.52,1240.79 68.13,1276.76 70.22,1418.72 70.99,1462.31 71.71,1496.38 72.37,1521.86 73.13,1544.76 73.83,1560.65 74.64,1574.49 75.19,1581.84 75.85,1588.98 76.43,1594.10 77.12,1599.11 77.82,1603.33 78.86,1608.47 79.93,1613.01 81.15,1617.44 82.30,1621.01 83.85,1625.09 85.85,1629.52 88.22,1634.15 90.16,1637.50 91.89,1640.00 93.69,1642.07 95.39,1643.61 97.48,1645.03 99.81,1646.16 102.60,1647.10 106.27,1648.00 110.74,1648.83 115.94,1649.53 119.67,1649.84 124.99,1649.97 128.88,1649.84 132.15,1649.59 136.33,1649.12 140.68,1648.49 149.28,1646.95 165.33,1643.71 174.24,1642.02 182.18,1640.70 189.34,1639.70 197.59,1638.79 207.04,1638.04 217.36,1637.49 229.11,1637.09 251.35,1636.64 278.85,1636.43 623.90,1636.45" stroke="#ff00ff"/>
</g>
<text transform="translate(55.6,1673.8) scale(1.08,1)" font-size="16.2" text-anchor="middle" class="tk">0</text>
<text transform="translate(169.3,1673.8) scale(1.08,1)" font-size="16.2" text-anchor="middle" class="tk">10</text>
<text transform="translate(282.9,1673.8) scale(1.08,1)" font-size="16.2" text-anchor="middle" class="tk">20</text>
<text transform="translate(396.6,1673.8) scale(1.08,1)" font-size="16.2" text-anchor="middle" class="tk">30</text>
<text transform="translate(510.2,1673.8) scale(1.08,1)" font-size="16.2" text-anchor="middle" class="tk">40</text>
<text transform="translate(623.9,1673.8) scale(1.08,1)" font-size="16.2" text-anchor="middle" class="tk">50</text>
<text transform="translate(47.4,1614.0) scale(1.08,1)" font-size="16.2" text-anchor="end" class="tk">10</text>
<text transform="translate(47.4,1540.5) scale(1.08,1)" font-size="16.2" text-anchor="end" class="tk">20</text>
<text transform="translate(47.4,1467.0) scale(1.08,1)" font-size="16.2" text-anchor="end" class="tk">30</text>
<text transform="translate(47.4,1393.6) scale(1.08,1)" font-size="16.2" text-anchor="end" class="tk">40</text>
<text transform="translate(47.4,1320.1) scale(1.08,1)" font-size="16.2" text-anchor="end" class="tk">50</text>
<text transform="translate(47.4,1246.6) scale(1.08,1)" font-size="16.2" text-anchor="end" class="tk">60</text>
<rect x="407.7" y="1214.3" width="202.7" height="90.8" fill="#fff" stroke="#262626" stroke-width="1.7"/>
<line x1="413.0" y1="1227.3" x2="465.1" y2="1227.3" stroke="#00ff00" stroke-width="2.6"/>
<text x="469.4" y="1232.1" class="lg it" textLength="9.4" lengthAdjust="spacingAndGlyphs">η</text>
<text x="482.7" y="1232.1" class="lg" textLength="15" lengthAdjust="spacingAndGlyphs">=</text>
<text x="501.8" y="1232.1" class="lg" textLength="30.6" lengthAdjust="spacingAndGlyphs">0.89</text>
<text x="532.1" y="1232.1" class="lg">;</text>
<text x="540.6" y="1232.1" class="lg it" textLength="8.2" lengthAdjust="spacingAndGlyphs">τ</text>
<text x="554.2" y="1232.1" class="lg" textLength="15" lengthAdjust="spacingAndGlyphs">=</text>
<text x="573.4" y="1232.1" class="lg" textLength="30.9" lengthAdjust="spacingAndGlyphs">0.97</text>
<line x1="413.0" y1="1248.7" x2="465.1" y2="1248.7" stroke="#ff0000" stroke-width="2.6"/>
<text x="469.4" y="1253.5" class="lg it" textLength="9.4" lengthAdjust="spacingAndGlyphs">η</text>
<text x="482.7" y="1253.5" class="lg" textLength="15" lengthAdjust="spacingAndGlyphs">=</text>
<text x="501.8" y="1253.5" class="lg" textLength="30.6" lengthAdjust="spacingAndGlyphs">0.84</text>
<text x="532.1" y="1253.5" class="lg">;</text>
<text x="540.6" y="1253.5" class="lg it" textLength="8.2" lengthAdjust="spacingAndGlyphs">τ</text>
<text x="554.2" y="1253.5" class="lg" textLength="15" lengthAdjust="spacingAndGlyphs">=</text>
<text x="573.4" y="1253.5" class="lg" textLength="30.9" lengthAdjust="spacingAndGlyphs">0.87</text>
<line x1="413.0" y1="1270.1" x2="465.1" y2="1270.1" stroke="#0000ff" stroke-width="2.6"/>
<text x="469.4" y="1274.9" class="lg it" textLength="9.4" lengthAdjust="spacingAndGlyphs">η</text>
<text x="482.7" y="1274.9" class="lg" textLength="15" lengthAdjust="spacingAndGlyphs">=</text>
<text x="501.8" y="1274.9" class="lg" textLength="30.6" lengthAdjust="spacingAndGlyphs">0.79</text>
<text x="532.1" y="1274.9" class="lg">;</text>
<text x="540.6" y="1274.9" class="lg it" textLength="8.2" lengthAdjust="spacingAndGlyphs">τ</text>
<text x="554.2" y="1274.9" class="lg" textLength="15" lengthAdjust="spacingAndGlyphs">=</text>
<text x="573.4" y="1274.9" class="lg" textLength="30.9" lengthAdjust="spacingAndGlyphs">0.77</text>
<line x1="413.0" y1="1291.5" x2="465.1" y2="1291.5" stroke="#ff00ff" stroke-width="2.6"/>
<text x="469.4" y="1296.3" class="lg it" textLength="9.4" lengthAdjust="spacingAndGlyphs">η</text>
<text x="482.7" y="1296.3" class="lg" textLength="15" lengthAdjust="spacingAndGlyphs">=</text>
<text x="501.8" y="1296.3" class="lg" textLength="30.6" lengthAdjust="spacingAndGlyphs">0.74</text>
<text x="532.1" y="1296.3" class="lg">;</text>
<text x="540.6" y="1296.3" class="lg it" textLength="8.2" lengthAdjust="spacingAndGlyphs">τ</text>
<text x="554.2" y="1296.3" class="lg" textLength="15" lengthAdjust="spacingAndGlyphs">=</text>
<text x="573.4" y="1296.3" class="lg" textLength="30.9" lengthAdjust="spacingAndGlyphs">0.67</text>
<text x="340.0" y="1698.0" class="xl" text-anchor="middle" textLength="122.5" lengthAdjust="spacingAndGlyphs">Time in Days</text>
<text transform="translate(16.0,1425.9) rotate(-90)" class="yl" text-anchor="middle">I<tspan class="sub" dy="3.5" font-size="16.5">S</tspan><tspan class="up" dy="-3.5">(</tspan>t<tspan class="up">)</tspan></text>
<text transform="translate(331.0,1750.0) scale(1.04,1)" class="tag" text-anchor="middle">(e)</text>
<rect x="223.5" y="1340.7" width="218.0" height="209.8" fill="#fff"/>
<line x1="295.8" y1="1341.7" x2="295.8" y2="1550.5" stroke="#dcdcdc" stroke-width="1.4"/>
<line x1="368.2" y1="1341.7" x2="368.2" y2="1550.5" stroke="#dcdcdc" stroke-width="1.4"/>
<line x1="440.5" y1="1341.7" x2="440.5" y2="1550.5" stroke="#dcdcdc" stroke-width="1.4"/>
<line x1="223.5" y1="1537.7" x2="440.5" y2="1537.7" stroke="#dcdcdc" stroke-width="1.4"/>
<line x1="223.5" y1="1502.4" x2="440.5" y2="1502.4" stroke="#dcdcdc" stroke-width="1.4"/>
<line x1="223.5" y1="1467.1" x2="440.5" y2="1467.1" stroke="#dcdcdc" stroke-width="1.4"/>
<line x1="223.5" y1="1431.8" x2="440.5" y2="1431.8" stroke="#dcdcdc" stroke-width="1.4"/>
<line x1="223.5" y1="1396.5" x2="440.5" y2="1396.5" stroke="#dcdcdc" stroke-width="1.4"/>
<line x1="223.5" y1="1361.2" x2="440.5" y2="1361.2" stroke="#dcdcdc" stroke-width="1.4"/>
<path d="M223.5,1341.7 V1550.5 H440.5 M223.5,1550.5 v-2.6 M295.8,1550.5 v-2.6 M368.2,1550.5 v-2.6 M440.5,1550.5 v-2.6 M223.5,1537.7 h2.6 M223.5,1502.4 h2.6 M223.5,1467.1 h2.6 M223.5,1431.8 h2.6 M223.5,1396.5 h2.6 M223.5,1361.2 h2.6" fill="none" stroke="#262626" stroke-width="1.7" stroke-linecap="butt"/>
<clipPath id="c6"><rect x="222.5" y="1340.2" width="219.0" height="211.8"/></clipPath>
<g clip-path="url(#c6)" fill="none" stroke-width="2.7" stroke-linejoin="round" stroke-linecap="round">
<path d="M223.50,1537.70 224.11,1537.96 224.89,1538.15 226.15,1538.23 227.71,1538.06 229.70,1537.65 231.55,1537.15 234.18,1536.25 236.41,1535.31 238.80,1534.12 242.33,1531.98 244.31,1530.55 245.96,1529.21 247.70,1527.64 249.80,1525.52 253.22,1521.59 255.35,1518.85 257.27,1516.20 261.36,1510.06 265.03,1504.02 268.95,1497.09 272.28,1490.84 274.89,1485.72 278.99,1477.36 287.87,1458.84 293.23,1448.08 296.02,1442.78 298.31,1438.63 300.65,1434.61 302.44,1431.72 305.49,1427.19 307.99,1423.91 310.54,1421.01 312.49,1419.12 313.81,1418.01 315.14,1417.03 317.16,1415.85 318.52,1415.28 319.90,1414.91 320.59,1414.80 321.99,1414.75 323.40,1414.94 324.12,1415.13 325.55,1415.72 327.00,1416.58 328.46,1417.75 329.94,1419.23 331.43,1421.03 332.94,1423.15 335.23,1426.85 338.33,1432.64 341.49,1439.22 345.53,1448.26 356.47,1473.49 359.09,1479.18 362.64,1486.45 366.26,1493.18 368.09,1496.30 369.93,1499.22 371.80,1501.92 373.68,1504.41 375.57,1506.71 377.49,1508.83 380.39,1511.70 382.34,1513.43 385.30,1515.78 387.30,1517.21 390.33,1519.17 393.39,1520.97 397.54,1523.18 400.70,1524.72 403.89,1526.18 408.22,1528.00 412.61,1529.70 417.08,1531.30 421.61,1532.82 427.39,1534.63 434.47,1536.69 440.50,1538.32" stroke="#00ff00"/>
<path d="M223.50,1537.70 224.75,1538.06 226.21,1538.12 228.40,1537.79 230.89,1537.11 232.86,1536.35 235.03,1535.24 236.90,1534.04 238.80,1532.56 240.11,1531.38 242.12,1529.30 243.86,1527.23 245.48,1525.10 247.19,1522.61 249.00,1519.72 250.91,1516.40 252.63,1513.18 256.30,1505.59 259.96,1497.12 263.53,1488.03 267.75,1476.34 270.60,1467.92 274.45,1455.91 288.92,1408.07 291.59,1400.05 293.78,1394.20 295.46,1390.30 296.59,1387.98 298.31,1385.00 299.48,1383.38 300.65,1382.08 301.84,1381.11 302.44,1380.75 303.65,1380.31 304.88,1380.24 306.11,1380.56 307.36,1381.27 308.62,1382.41 309.90,1383.97 311.19,1385.98 311.84,1387.15 313.15,1389.86 314.47,1393.03 315.81,1396.65 317.16,1400.65 319.90,1409.64 322.70,1419.61 329.94,1446.37 333.70,1459.40 336.77,1469.29 339.11,1476.32 340.69,1480.80 343.09,1487.17 344.71,1491.16 347.17,1496.73 348.83,1500.15 350.50,1503.32 353.04,1507.63 355.61,1511.45 358.22,1514.83 360.86,1517.82 363.54,1520.47 366.26,1522.83 369.93,1525.60 373.68,1528.04 377.49,1530.19 381.36,1532.10 386.30,1534.19 390.33,1535.67 396.50,1537.65 403.89,1539.68 410.40,1541.22 418.20,1542.82 425.06,1544.05 432.09,1545.18 440.50,1546.39" stroke="#ff0000"/>
<path d="M223.50,1537.70 224.20,1537.94 224.89,1538.07 226.63,1538.07 228.89,1537.64 231.11,1536.94 232.98,1536.09 235.18,1534.75 236.90,1533.40 238.62,1531.76 240.11,1530.08 241.91,1527.71 243.41,1525.46 244.77,1523.20 245.96,1521.06 247.70,1517.62 249.53,1513.62 251.19,1509.68 254.12,1501.94 255.67,1497.46 257.60,1491.49 260.65,1481.21 263.90,1469.14 266.96,1456.78 270.60,1441.08 278.05,1406.94 280.40,1396.57 283.31,1384.73 285.31,1377.50 286.84,1372.55 287.87,1369.53 289.45,1365.50 291.05,1362.15 292.13,1360.36 292.68,1359.60 293.78,1358.39 294.34,1357.94 295.46,1357.39 296.02,1357.28 296.59,1357.30 297.16,1357.45 297.74,1357.73 298.89,1358.68 300.06,1360.19 301.25,1362.21 303.05,1366.16 304.26,1369.37 305.49,1373.00 307.36,1379.20 309.90,1388.69 313.15,1402.26 321.99,1442.44 325.55,1457.77 327.73,1466.44 329.20,1471.89 330.68,1477.04 332.18,1481.86 333.70,1486.36 335.23,1490.56 336.77,1494.47 339.11,1499.83 340.69,1503.08 343.09,1507.50 345.53,1511.43 348.00,1514.91 350.50,1517.98 352.19,1519.82 353.89,1521.51 355.61,1523.07 357.34,1524.50 359.09,1525.83 361.75,1527.64 364.44,1529.28 367.17,1530.79 373.68,1534.02 379.42,1536.58 385.30,1538.91 390.33,1540.65 396.50,1542.47 402.82,1543.99 407.13,1544.87 414.83,1546.20 421.61,1547.19 432.09,1548.53 440.50,1549.49" stroke="#0000ff"/>
<path d="M223.50,1537.70 224.07,1537.96 224.85,1538.17 226.21,1538.23 227.22,1538.09 228.32,1537.82 230.28,1537.14 232.36,1536.08 234.04,1534.93 235.48,1533.71 237.23,1531.89 238.80,1529.92 240.11,1528.01 241.50,1525.71 242.76,1523.39 244.31,1520.20 245.72,1517.00 247.70,1511.99 249.00,1508.38 251.76,1499.87 253.22,1494.92 255.04,1488.28 257.93,1476.78 261.36,1461.63 263.90,1449.42 266.96,1433.79 275.33,1388.57 277.59,1376.72 279.45,1367.76 280.88,1361.57 281.84,1357.78 283.31,1352.73 284.30,1349.84 285.31,1347.39 286.33,1345.43 286.84,1344.64 287.87,1343.43 288.40,1343.01 288.92,1342.73 289.45,1342.57 289.98,1342.54 290.51,1342.64 291.05,1342.87 291.59,1343.23 292.68,1344.35 293.78,1345.99 294.90,1348.18 296.02,1350.91 297.16,1354.18 298.31,1358.00 299.48,1362.38 301.25,1369.87 303.05,1378.29 304.88,1387.46 312.49,1427.56 316.48,1446.97 318.52,1456.08 320.59,1464.75 322.70,1472.92 324.83,1480.56 326.27,1485.34 328.46,1491.99 330.68,1498.01 332.18,1501.65 334.46,1506.60 336.77,1510.99 339.11,1514.85 340.69,1517.17 343.09,1520.30 344.71,1522.18 346.35,1523.90 349.66,1526.95 353.04,1529.56 356.47,1531.80 359.09,1533.27 360.86,1534.16 362.64,1535.00 366.26,1536.52 370.86,1538.22 378.45,1540.66 385.30,1542.55 393.39,1544.47 399.64,1545.75 406.05,1546.93 417.08,1548.73 429.73,1550.60 440.50,1552.03" stroke="#ff00ff"/>
</g>
<text transform="translate(223.5,1570.1) scale(1.08,1)" font-size="13.6" text-anchor="middle" class="tk">0</text>
<text transform="translate(295.8,1570.1) scale(1.08,1)" font-size="13.6" text-anchor="middle" class="tk">1</text>
<text transform="translate(368.2,1570.1) scale(1.08,1)" font-size="13.6" text-anchor="middle" class="tk">2</text>
<text transform="translate(440.5,1570.1) scale(1.08,1)" font-size="13.6" text-anchor="middle" class="tk">3</text>
<text transform="translate(218.9,1543.9) scale(1.08,1)" font-size="13.6" text-anchor="end" class="tk">10</text>
<text transform="translate(218.9,1508.6) scale(1.08,1)" font-size="13.6" text-anchor="end" class="tk">20</text>
<text transform="translate(218.9,1473.3) scale(1.08,1)" font-size="13.6" text-anchor="end" class="tk">30</text>
<text transform="translate(218.9,1438.0) scale(1.08,1)" font-size="13.6" text-anchor="end" class="tk">40</text>
<text transform="translate(218.9,1402.7) scale(1.08,1)" font-size="13.6" text-anchor="end" class="tk">50</text>
<text transform="translate(218.9,1367.4) scale(1.08,1)" font-size="13.6" text-anchor="end" class="tk">60</text>
<rect x="49.4" y="1188.3" width="44.6" height="466.3" fill="none" stroke="#000" stroke-width="1.5" stroke-dasharray="9.5 5.5"/>
<line x1="94.0" y1="1188.3" x2="212.0" y2="1327.7" stroke="#000" stroke-width="1.9"/><polygon points="220.1,1337.2 203.1,1328.0 212.0,1327.7 213.8,1318.9" fill="#000"/>
<line x1="94.0" y1="1654.6" x2="209.7" y2="1561.4" stroke="#000" stroke-width="1.9"/><polygon points="219.4,1553.6 209.8,1570.3 209.7,1561.4 201.0,1559.4" fill="#000"/>
<line x1="908.2" y1="1199.8" x2="908.2" y2="1649.3" stroke="#dcdcdc" stroke-width="1.4"/>
<line x1="1021.8" y1="1199.8" x2="1021.8" y2="1649.3" stroke="#dcdcdc" stroke-width="1.4"/>
<line x1="1135.4" y1="1199.8" x2="1135.4" y2="1649.3" stroke="#dcdcdc" stroke-width="1.4"/>
<line x1="1249.0" y1="1199.8" x2="1249.0" y2="1649.3" stroke="#dcdcdc" stroke-width="1.4"/>
<line x1="1362.6" y1="1199.8" x2="1362.6" y2="1649.3" stroke="#dcdcdc" stroke-width="1.4"/>
<line x1="794.6" y1="1629.7" x2="1362.6" y2="1629.7" stroke="#dcdcdc" stroke-width="1.4"/>
<line x1="794.6" y1="1590.5" x2="1362.6" y2="1590.5" stroke="#dcdcdc" stroke-width="1.4"/>
<line x1="794.6" y1="1551.2" x2="1362.6" y2="1551.2" stroke="#dcdcdc" stroke-width="1.4"/>
<line x1="794.6" y1="1512.0" x2="1362.6" y2="1512.0" stroke="#dcdcdc" stroke-width="1.4"/>
<line x1="794.6" y1="1472.8" x2="1362.6" y2="1472.8" stroke="#dcdcdc" stroke-width="1.4"/>
<line x1="794.6" y1="1433.6" x2="1362.6" y2="1433.6" stroke="#dcdcdc" stroke-width="1.4"/>
<line x1="794.6" y1="1394.3" x2="1362.6" y2="1394.3" stroke="#dcdcdc" stroke-width="1.4"/>
<line x1="794.6" y1="1355.1" x2="1362.6" y2="1355.1" stroke="#dcdcdc" stroke-width="1.4"/>
<line x1="794.6" y1="1315.9" x2="1362.6" y2="1315.9" stroke="#dcdcdc" stroke-width="1.4"/>
<line x1="794.6" y1="1276.7" x2="1362.6" y2="1276.7" stroke="#dcdcdc" stroke-width="1.4"/>
<line x1="794.6" y1="1237.5" x2="1362.6" y2="1237.5" stroke="#dcdcdc" stroke-width="1.4"/>
<path d="M794.6,1199.8 V1649.3 H1362.6 M794.6,1649.3 v-6.0 M908.2,1649.3 v-6.0 M1021.8,1649.3 v-6.0 M1135.4,1649.3 v-6.0 M1249.0,1649.3 v-6.0 M1362.6,1649.3 v-6.0 M794.6,1629.7 h6.0 M794.6,1590.5 h6.0 M794.6,1551.2 h6.0 M794.6,1512.0 h6.0 M794.6,1472.8 h6.0 M794.6,1433.6 h6.0 M794.6,1394.3 h6.0 M794.6,1355.1 h6.0 M794.6,1315.9 h6.0 M794.6,1276.7 h6.0 M794.6,1237.5 h6.0" fill="none" stroke="#262626" stroke-width="1.8" stroke-linecap="butt"/>
<clipPath id="c7"><rect x="793.6" y="1198.3" width="570.0" height="452.5"/></clipPath>
<g clip-path="url(#c7)" fill="none" stroke-width="2.8" stroke-linejoin="round" stroke-linecap="round">
<path d="M794.60,1649.30 794.98,1649.07 795.91,1649.10 796.18,1648.93 796.45,1648.55 796.70,1647.98 797.03,1646.75 797.41,1644.43 797.94,1639.39 798.41,1632.96 799.28,1616.25 800.23,1591.75 800.93,1570.43 804.83,1433.12 806.05,1393.64 806.86,1370.03 807.97,1341.26 809.15,1315.13 810.11,1297.09 811.42,1276.39 812.82,1258.81 814.29,1244.16 815.74,1232.96 816.49,1228.10 817.53,1222.33 818.47,1217.89 819.44,1213.97 820.59,1210.08 821.63,1207.21 822.55,1205.14 823.82,1202.98 824.47,1202.16 825.13,1201.51 826.15,1200.88 827.20,1200.66 827.91,1200.76 828.46,1200.95 829.01,1201.26 829.76,1201.84 831.10,1203.33 832.49,1205.37 833.92,1207.92 835.40,1210.96 837.15,1214.96 840.85,1224.44 845.35,1236.93 852.26,1256.83 869.45,1306.91 873.65,1318.77 876.84,1327.43 881.00,1338.04 883.15,1343.18 885.35,1348.16 888.06,1353.93 889.91,1357.63 892.27,1362.09 894.20,1365.51 896.16,1368.79 898.67,1372.70 901.75,1377.11 904.39,1380.56 907.09,1383.83 910.41,1387.52 913.25,1390.41 916.74,1393.67 919.73,1396.24 923.41,1399.14 926.55,1401.42 931.07,1404.42 935.07,1406.83 939.18,1409.09 944.12,1411.53 947.74,1413.13 950.70,1414.34 954.48,1415.74 959.14,1417.27 963.12,1418.42 967.19,1419.46 972.20,1420.57 979.98,1421.96 989.01,1423.16 999.44,1424.14 1010.42,1424.85 1026.31,1425.51 1041.00,1425.88 1052.92,1426.08 1083.88,1426.30 1185.35,1426.18 1362.60,1426.20" stroke="#00ff00"/>
<path d="M794.60,1649.30 794.98,1649.07 795.60,1649.13 795.98,1649.07 796.35,1648.72 796.70,1647.99 796.88,1647.39 797.37,1644.74 797.94,1639.44 798.41,1633.02 799.28,1616.32 800.23,1591.80 800.93,1570.43 804.83,1432.52 806.05,1392.81 806.86,1369.09 807.97,1340.22 808.78,1321.80 810.01,1297.82 811.11,1280.05 812.27,1264.60 813.15,1254.82 813.83,1248.22 814.53,1242.24 815.49,1235.14 816.88,1226.89 817.53,1223.67 818.61,1219.14 819.73,1215.30 820.89,1212.10 822.09,1209.54 823.02,1208.04 824.14,1206.75 824.80,1206.22 825.47,1205.86 826.15,1205.67 826.85,1205.63 827.38,1205.72 828.09,1205.97 829.01,1206.53 829.76,1207.17 831.29,1208.94 832.89,1211.34 834.76,1214.73 836.70,1218.81 838.73,1223.52 840.61,1228.20 843.30,1235.31 848.02,1248.51 853.74,1265.31 869.45,1312.72 872.87,1322.69 876.84,1333.76 881.00,1344.54 883.15,1349.73 885.35,1354.75 888.98,1362.41 891.32,1366.94 893.23,1370.41 895.67,1374.56 898.16,1378.48 901.23,1382.89 903.33,1385.66 906.54,1389.58 909.29,1392.64 912.68,1396.07 914.98,1398.23 917.93,1400.78 922.17,1404.12 925.28,1406.35 929.12,1408.87 933.06,1411.24 937.80,1413.82 941.27,1415.55 946.28,1417.79 949.22,1418.98 952.96,1420.37 956.80,1421.65 961.51,1423.04 966.36,1424.29 969.67,1425.03 974.75,1426.02 978.22,1426.59 982.64,1427.22 987.17,1427.76 996.54,1428.60 1002.38,1428.99 1010.42,1429.40 1021.96,1429.81 1045.70,1430.30 1075.81,1430.56 1178.09,1430.27 1362.60,1430.30" stroke="#ff0000"/>
<path d="M794.60,1649.30 794.98,1649.07 795.63,1649.13 795.98,1649.07 796.18,1648.93 796.45,1648.56 796.70,1648.00 796.99,1646.95 797.41,1644.48 797.94,1639.48 798.41,1633.06 799.28,1616.34 800.23,1591.76 800.93,1570.32 804.83,1431.63 806.05,1391.70 806.86,1367.89 807.97,1339.00 808.78,1320.64 810.01,1296.87 811.11,1279.38 812.16,1265.60 813.60,1250.63 814.29,1244.76 815.13,1238.68 815.74,1234.81 816.62,1230.01 817.53,1225.88 818.47,1222.33 819.44,1219.32 820.30,1217.12 821.48,1214.73 822.55,1213.14 823.18,1212.43 823.82,1211.88 824.80,1211.34 825.47,1211.16 826.33,1211.15 827.20,1211.38 827.91,1211.73 828.82,1212.37 829.76,1213.25 830.52,1214.11 831.49,1215.39 833.30,1218.22 835.40,1222.10 838.05,1227.69 840.37,1233.11 843.05,1239.83 845.35,1245.91 848.02,1253.28 851.10,1262.14 857.12,1280.23 869.45,1318.44 873.65,1330.93 876.84,1339.94 881.00,1350.84 883.15,1356.05 884.91,1360.07 887.15,1364.91 888.98,1368.63 891.32,1373.09 893.23,1376.49 895.67,1380.54 898.16,1384.34 900.20,1387.22 902.80,1390.63 906.00,1394.44 908.74,1397.40 911.54,1400.19 914.98,1403.31 917.93,1405.74 921.56,1408.48 925.28,1411.04 928.47,1413.06 932.39,1415.35 937.11,1417.88 941.98,1420.23 946.28,1422.10 952.96,1424.65 956.80,1425.93 960.72,1427.11 965.55,1428.40 968.84,1429.18 973.90,1430.23 978.22,1431.00 982.64,1431.67 988.09,1432.36 998.47,1433.35 1007.37,1433.93 1021.96,1434.53 1039.84,1434.89 1061.60,1435.04 1160.52,1434.68 1362.60,1434.70" stroke="#0000ff"/>
<path d="M794.60,1649.30 795.01,1649.07 795.66,1649.13 795.94,1649.08 796.21,1648.89 796.45,1648.56 796.70,1648.00 796.99,1646.96 797.41,1644.50 797.94,1639.51 798.41,1633.11 799.28,1616.41 800.23,1591.81 801.21,1561.11 804.83,1430.96 806.05,1390.74 806.86,1366.78 807.97,1337.75 808.78,1319.35 810.01,1295.62 811.01,1279.75 812.16,1264.72 813.37,1252.21 814.06,1246.38 814.77,1241.20 815.49,1236.65 816.24,1232.67 817.01,1229.22 817.93,1225.82 818.61,1223.75 819.44,1221.63 820.59,1219.34 821.48,1218.02 822.09,1217.33 822.71,1216.78 823.18,1216.46 823.82,1216.16 824.64,1215.98 825.64,1216.04 826.50,1216.32 827.38,1216.80 828.09,1217.32 829.01,1218.15 829.95,1219.17 831.10,1220.64 833.30,1223.99 835.83,1228.57 838.05,1233.10 841.33,1240.54 843.81,1246.68 846.67,1254.24 849.40,1261.88 852.26,1270.27 858.07,1288.19 869.45,1324.43 872.87,1334.83 876.84,1346.24 880.15,1355.04 882.28,1360.32 884.47,1365.38 886.70,1370.21 888.52,1373.92 890.38,1377.48 892.75,1381.71 895.18,1385.70 897.66,1389.45 900.20,1392.95 902.80,1396.24 905.46,1399.31 908.19,1402.19 910.97,1404.88 914.40,1407.89 917.93,1410.69 920.95,1412.87 925.28,1415.74 928.47,1417.67 932.39,1419.88 937.11,1422.33 941.27,1424.31 946.28,1426.47 952.96,1429.00 957.57,1430.52 960.72,1431.45 968.01,1433.32 973.05,1434.38 976.48,1435.00 981.75,1435.81 985.35,1436.27 994.63,1437.19 1005.36,1437.90 1020.89,1438.53 1044.52,1439.02 1070.56,1439.24 1092.17,1439.19 1143.74,1438.85 1174.51,1438.76 1362.60,1438.80" stroke="#ff00ff"/>
</g>
<text transform="translate(794.6,1673.9) scale(1.08,1)" font-size="16.2" text-anchor="middle" class="tk">0</text>
<text transform="translate(908.2,1673.9) scale(1.08,1)" font-size="16.2" text-anchor="middle" class="tk">10</text>
<text transform="translate(1021.8,1673.9) scale(1.08,1)" font-size="16.2" text-anchor="middle" class="tk">20</text>
<text transform="translate(1135.4,1673.9) scale(1.08,1)" font-size="16.2" text-anchor="middle" class="tk">30</text>
<text transform="translate(1249.0,1673.9) scale(1.08,1)" font-size="16.2" text-anchor="middle" class="tk">40</text>
<text transform="translate(1362.6,1673.9) scale(1.08,1)" font-size="16.2" text-anchor="middle" class="tk">50</text>
<text transform="translate(786.3,1636.8) scale(1.08,1)" font-size="16.2" text-anchor="end" class="tk">20</text>
<text transform="translate(786.3,1597.6) scale(1.08,1)" font-size="16.2" text-anchor="end" class="tk">40</text>
<text transform="translate(786.3,1558.4) scale(1.08,1)" font-size="16.2" text-anchor="end" class="tk">60</text>
<text transform="translate(786.3,1519.2) scale(1.08,1)" font-size="16.2" text-anchor="end" class="tk">80</text>
<text transform="translate(786.3,1479.9) scale(1.08,1)" font-size="16.2" text-anchor="end" class="tk">100</text>
<text transform="translate(786.3,1440.7) scale(1.08,1)" font-size="16.2" text-anchor="end" class="tk">120</text>
<text transform="translate(786.3,1401.5) scale(1.08,1)" font-size="16.2" text-anchor="end" class="tk">140</text>
<text transform="translate(786.3,1362.3) scale(1.08,1)" font-size="16.2" text-anchor="end" class="tk">160</text>
<text transform="translate(786.3,1323.0) scale(1.08,1)" font-size="16.2" text-anchor="end" class="tk">180</text>
<text transform="translate(786.3,1283.8) scale(1.08,1)" font-size="16.2" text-anchor="end" class="tk">200</text>
<text transform="translate(786.3,1244.6) scale(1.08,1)" font-size="16.2" text-anchor="end" class="tk">220</text>
<rect x="1146.6" y="1214.3" width="202.5" height="90.8" fill="#fff" stroke="#262626" stroke-width="1.7"/>
<line x1="1151.9" y1="1227.3" x2="1204.0" y2="1227.3" stroke="#00ff00" stroke-width="2.6"/>
<text x="1208.3" y="1232.1" class="lg it" textLength="9.4" lengthAdjust="spacingAndGlyphs">η</text>
<text x="1221.6" y="1232.1" class="lg" textLength="15" lengthAdjust="spacingAndGlyphs">=</text>
<text x="1240.7" y="1232.1" class="lg" textLength="30.6" lengthAdjust="spacingAndGlyphs">0.89</text>
<text x="1271.0" y="1232.1" class="lg">;</text>
<text x="1279.5" y="1232.1" class="lg it" textLength="8.2" lengthAdjust="spacingAndGlyphs">τ</text>
<text x="1293.1" y="1232.1" class="lg" textLength="15" lengthAdjust="spacingAndGlyphs">=</text>
<text x="1312.3" y="1232.1" class="lg" textLength="30.9" lengthAdjust="spacingAndGlyphs">0.97</text>
<line x1="1151.9" y1="1248.7" x2="1204.0" y2="1248.7" stroke="#ff0000" stroke-width="2.6"/>
<text x="1208.3" y="1253.5" class="lg it" textLength="9.4" lengthAdjust="spacingAndGlyphs">η</text>
<text x="1221.6" y="1253.5" class="lg" textLength="15" lengthAdjust="spacingAndGlyphs">=</text>
<text x="1240.7" y="1253.5" class="lg" textLength="30.6" lengthAdjust="spacingAndGlyphs">0.84</text>
<text x="1271.0" y="1253.5" class="lg">;</text>
<text x="1279.5" y="1253.5" class="lg it" textLength="8.2" lengthAdjust="spacingAndGlyphs">τ</text>
<text x="1293.1" y="1253.5" class="lg" textLength="15" lengthAdjust="spacingAndGlyphs">=</text>
<text x="1312.3" y="1253.5" class="lg" textLength="30.9" lengthAdjust="spacingAndGlyphs">0.87</text>
<line x1="1151.9" y1="1270.1" x2="1204.0" y2="1270.1" stroke="#0000ff" stroke-width="2.6"/>
<text x="1208.3" y="1274.9" class="lg it" textLength="9.4" lengthAdjust="spacingAndGlyphs">η</text>
<text x="1221.6" y="1274.9" class="lg" textLength="15" lengthAdjust="spacingAndGlyphs">=</text>
<text x="1240.7" y="1274.9" class="lg" textLength="30.6" lengthAdjust="spacingAndGlyphs">0.79</text>
<text x="1271.0" y="1274.9" class="lg">;</text>
<text x="1279.5" y="1274.9" class="lg it" textLength="8.2" lengthAdjust="spacingAndGlyphs">τ</text>
<text x="1293.1" y="1274.9" class="lg" textLength="15" lengthAdjust="spacingAndGlyphs">=</text>
<text x="1312.3" y="1274.9" class="lg" textLength="30.9" lengthAdjust="spacingAndGlyphs">0.77</text>
<line x1="1151.9" y1="1291.5" x2="1204.0" y2="1291.5" stroke="#ff00ff" stroke-width="2.6"/>
<text x="1208.3" y="1296.3" class="lg it" textLength="9.4" lengthAdjust="spacingAndGlyphs">η</text>
<text x="1221.6" y="1296.3" class="lg" textLength="15" lengthAdjust="spacingAndGlyphs">=</text>
<text x="1240.7" y="1296.3" class="lg" textLength="30.6" lengthAdjust="spacingAndGlyphs">0.74</text>
<text x="1271.0" y="1296.3" class="lg">;</text>
<text x="1279.5" y="1296.3" class="lg it" textLength="8.2" lengthAdjust="spacingAndGlyphs">τ</text>
<text x="1293.1" y="1296.3" class="lg" textLength="15" lengthAdjust="spacingAndGlyphs">=</text>
<text x="1312.3" y="1296.3" class="lg" textLength="30.9" lengthAdjust="spacingAndGlyphs">0.67</text>
<text x="1079.0" y="1698.0" class="xl" text-anchor="middle" textLength="122.5" lengthAdjust="spacingAndGlyphs">Time in Days</text>
<text transform="translate(745.1,1425.7) rotate(-90)" class="yl" text-anchor="middle">H<tspan class="up">(</tspan>t<tspan class="up">)</tspan></text>
<text transform="translate(1070.0,1750.0) scale(1.04,1)" class="tag" text-anchor="middle">(f)</text>
<line x1="169.3" y1="1803.0" x2="169.3" y2="2251.7" stroke="#dcdcdc" stroke-width="1.4"/>
<line x1="282.9" y1="1803.0" x2="282.9" y2="2251.7" stroke="#dcdcdc" stroke-width="1.4"/>
<line x1="396.6" y1="1803.0" x2="396.6" y2="2251.7" stroke="#dcdcdc" stroke-width="1.4"/>
<line x1="510.2" y1="1803.0" x2="510.2" y2="2251.7" stroke="#dcdcdc" stroke-width="1.4"/>
<line x1="623.9" y1="1803.0" x2="623.9" y2="2251.7" stroke="#dcdcdc" stroke-width="1.4"/>
<line x1="55.6" y1="2187.3" x2="623.9" y2="2187.3" stroke="#dcdcdc" stroke-width="1.4"/>
<line x1="55.6" y1="2122.9" x2="623.9" y2="2122.9" stroke="#dcdcdc" stroke-width="1.4"/>
<line x1="55.6" y1="2058.5" x2="623.9" y2="2058.5" stroke="#dcdcdc" stroke-width="1.4"/>
<line x1="55.6" y1="1994.1" x2="623.9" y2="1994.1" stroke="#dcdcdc" stroke-width="1.4"/>
<line x1="55.6" y1="1929.7" x2="623.9" y2="1929.7" stroke="#dcdcdc" stroke-width="1.4"/>
<line x1="55.6" y1="1865.3" x2="623.9" y2="1865.3" stroke="#dcdcdc" stroke-width="1.4"/>
<path d="M55.6,1803.0 V2251.7 H623.9 M55.6,2251.7 v-6.0 M169.3,2251.7 v-6.0 M282.9,2251.7 v-6.0 M396.6,2251.7 v-6.0 M510.2,2251.7 v-6.0 M623.9,2251.7 v-6.0 M55.6,2251.7 h6.0 M55.6,2187.3 h6.0 M55.6,2122.9 h6.0 M55.6,2058.5 h6.0 M55.6,1994.1 h6.0 M55.6,1929.7 h6.0 M55.6,1865.3 h6.0" fill="none" stroke="#262626" stroke-width="1.8" stroke-linecap="butt"/>
<clipPath id="c8"><rect x="54.6" y="1801.5" width="570.3" height="451.7"/></clipPath>
<g clip-path="url(#c8)" fill="none" stroke-width="2.8" stroke-linejoin="round" stroke-linecap="round">
<path d="M55.60,2251.70 56.12,1975.39 56.37,1899.85 56.53,1876.34 56.65,1870.68 56.79,1876.74 56.93,1897.02 57.69,2137.02 57.95,2189.87 58.19,2216.56 58.48,2232.34 58.87,2240.46 59.27,2244.79 59.70,2247.83 60.01,2249.29 60.30,2250.21 60.54,2250.69 60.87,2251.03 61.12,2251.12 61.43,2251.10 62.21,2250.73 64.32,2249.31 68.31,2246.35 71.98,2244.07 82.13,2238.56 91.52,2233.29 96.19,2230.79 99.04,2229.36 102.04,2227.96 105.19,2226.61 108.73,2225.26 112.33,2224.07 115.47,2223.18 119.27,2222.28 123.39,2221.51 127.41,2220.94 131.44,2220.53 135.65,2220.25 142.69,2220.05 151.43,2220.12 184.18,2221.30 205.76,2221.79 248.60,2222.16 293.17,2222.67 309.15,2222.76 330.46,2222.66 378.50,2221.80 407.78,2221.54 623.90,2221.56" stroke="#00ff00"/>
<path d="M55.60,2251.70 55.96,1922.51 56.12,1864.61 56.21,1846.26 56.35,1835.49 56.47,1846.79 56.56,1872.99 56.99,2106.35 57.27,2200.29 57.41,2223.12 57.62,2239.70 57.95,2248.29 58.19,2250.74 58.36,2251.50 58.51,2251.75 58.70,2251.75 59.22,2251.27 59.52,2251.10 59.83,2251.10 60.95,2251.40 61.29,2251.37 61.77,2251.19 64.08,2249.71 67.90,2247.77 73.82,2244.11 76.03,2242.94 78.49,2241.78 98.14,2233.41 102.25,2231.76 106.31,2230.26 109.44,2229.22 112.70,2228.25 116.37,2227.31 120.08,2226.52 123.53,2225.93 126.97,2225.47 130.99,2225.08 134.85,2224.84 139.69,2224.69 144.56,2224.66 176.72,2225.23 216.28,2225.18 231.22,2225.26 247.71,2225.50 286.31,2226.33 307.70,2226.56 317.98,2226.55 329.31,2226.43 380.23,2225.20 396.93,2224.96 410.08,2224.87 623.90,2224.91" stroke="#ff0000"/>
<path d="M55.60,2251.70 55.87,1935.57 56.03,1842.19 56.17,1813.71 56.33,1847.78 56.76,2130.57 56.99,2212.97 57.13,2234.37 57.27,2243.68 57.41,2247.49 57.62,2250.22 57.88,2251.55 58.17,2252.02 58.41,2252.06 59.30,2251.66 60.76,2251.37 61.83,2250.99 66.38,2248.79 72.68,2245.42 76.73,2243.63 86.72,2239.79 98.74,2235.03 106.43,2232.27 109.79,2231.22 113.45,2230.20 116.76,2229.40 120.62,2228.62 123.25,2228.18 127.99,2227.56 131.75,2227.22 135.01,2227.02 140.51,2226.85 146.63,2226.83 171.65,2227.36 184.63,2227.49 223.50,2227.34 245.03,2227.37 293.52,2227.91 315.75,2228.06 334.71,2228.02 380.23,2227.55 411.45,2227.40 623.90,2227.42" stroke="#0000ff"/>
<path d="M55.60,2251.70 55.87,1894.97 55.96,1829.14 56.08,1801.00 56.24,1870.17 56.53,2123.23 56.74,2215.79 56.83,2233.51 56.99,2245.74 57.27,2250.42 57.48,2251.33 57.69,2251.63 58.03,2251.74 59.17,2251.77 59.81,2251.66 60.90,2251.32 63.28,2250.41 69.03,2247.74 72.68,2246.29 82.34,2242.82 98.14,2236.89 103.65,2235.03 109.20,2233.39 116.37,2231.67 119.81,2231.01 123.81,2230.37 128.29,2229.81 131.75,2229.48 139.52,2229.02 145.76,2228.86 151.98,2228.83 188.26,2229.35 204.76,2229.48 284.95,2229.52 388.95,2229.92 623.90,2229.93" stroke="#ff00ff"/>
</g>
<text transform="translate(55.6,2276.3) scale(1.08,1)" font-size="16.2" text-anchor="middle" class="tk">0</text>
<text transform="translate(169.3,2276.3) scale(1.08,1)" font-size="16.2" text-anchor="middle" class="tk">10</text>
<text transform="translate(282.9,2276.3) scale(1.08,1)" font-size="16.2" text-anchor="middle" class="tk">20</text>
<text transform="translate(396.6,2276.3) scale(1.08,1)" font-size="16.2" text-anchor="middle" class="tk">30</text>
<text transform="translate(510.2,2276.3) scale(1.08,1)" font-size="16.2" text-anchor="middle" class="tk">40</text>
<text transform="translate(623.9,2276.3) scale(1.08,1)" font-size="16.2" text-anchor="middle" class="tk">50</text>
<text transform="translate(47.4,2258.8) scale(1.08,1)" font-size="16.2" text-anchor="end" class="tk">0</text>
<text transform="translate(47.4,2194.4) scale(1.08,1)" font-size="16.2" text-anchor="end" class="tk">1</text>
<text transform="translate(47.4,2130.0) scale(1.08,1)" font-size="16.2" text-anchor="end" class="tk">2</text>
<text transform="translate(47.4,2065.6) scale(1.08,1)" font-size="16.2" text-anchor="end" class="tk">3</text>
<text transform="translate(47.4,2001.2) scale(1.08,1)" font-size="16.2" text-anchor="end" class="tk">4</text>
<text transform="translate(47.4,1936.8) scale(1.08,1)" font-size="16.2" text-anchor="end" class="tk">5</text>
<text transform="translate(47.4,1872.4) scale(1.08,1)" font-size="16.2" text-anchor="end" class="tk">6</text>
<rect x="407.7" y="1816.9" width="202.7" height="91.2" fill="#fff" stroke="#262626" stroke-width="1.7"/>
<line x1="413.0" y1="1829.9" x2="465.1" y2="1829.9" stroke="#00ff00" stroke-width="2.6"/>
<text x="469.4" y="1834.7" class="lg it" textLength="9.4" lengthAdjust="spacingAndGlyphs">η</text>
<text x="482.7" y="1834.7" class="lg" textLength="15" lengthAdjust="spacingAndGlyphs">=</text>
<text x="501.8" y="1834.7" class="lg" textLength="30.6" lengthAdjust="spacingAndGlyphs">0.89</text>
<text x="532.1" y="1834.7" class="lg">;</text>
<text x="540.6" y="1834.7" class="lg it" textLength="8.2" lengthAdjust="spacingAndGlyphs">τ</text>
<text x="554.2" y="1834.7" class="lg" textLength="15" lengthAdjust="spacingAndGlyphs">=</text>
<text x="573.4" y="1834.7" class="lg" textLength="30.9" lengthAdjust="spacingAndGlyphs">0.97</text>
<line x1="413.0" y1="1851.3" x2="465.1" y2="1851.3" stroke="#ff0000" stroke-width="2.6"/>
<text x="469.4" y="1856.1" class="lg it" textLength="9.4" lengthAdjust="spacingAndGlyphs">η</text>
<text x="482.7" y="1856.1" class="lg" textLength="15" lengthAdjust="spacingAndGlyphs">=</text>
<text x="501.8" y="1856.1" class="lg" textLength="30.6" lengthAdjust="spacingAndGlyphs">0.84</text>
<text x="532.1" y="1856.1" class="lg">;</text>
<text x="540.6" y="1856.1" class="lg it" textLength="8.2" lengthAdjust="spacingAndGlyphs">τ</text>
<text x="554.2" y="1856.1" class="lg" textLength="15" lengthAdjust="spacingAndGlyphs">=</text>
<text x="573.4" y="1856.1" class="lg" textLength="30.9" lengthAdjust="spacingAndGlyphs">0.87</text>
<line x1="413.0" y1="1872.7" x2="465.1" y2="1872.7" stroke="#0000ff" stroke-width="2.6"/>
<text x="469.4" y="1877.5" class="lg it" textLength="9.4" lengthAdjust="spacingAndGlyphs">η</text>
<text x="482.7" y="1877.5" class="lg" textLength="15" lengthAdjust="spacingAndGlyphs">=</text>
<text x="501.8" y="1877.5" class="lg" textLength="30.6" lengthAdjust="spacingAndGlyphs">0.79</text>
<text x="532.1" y="1877.5" class="lg">;</text>
<text x="540.6" y="1877.5" class="lg it" textLength="8.2" lengthAdjust="spacingAndGlyphs">τ</text>
<text x="554.2" y="1877.5" class="lg" textLength="15" lengthAdjust="spacingAndGlyphs">=</text>
<text x="573.4" y="1877.5" class="lg" textLength="30.9" lengthAdjust="spacingAndGlyphs">0.77</text>
<line x1="413.0" y1="1894.1" x2="465.1" y2="1894.1" stroke="#ff00ff" stroke-width="2.6"/>
<text x="469.4" y="1898.9" class="lg it" textLength="9.4" lengthAdjust="spacingAndGlyphs">η</text>
<text x="482.7" y="1898.9" class="lg" textLength="15" lengthAdjust="spacingAndGlyphs">=</text>
<text x="501.8" y="1898.9" class="lg" textLength="30.6" lengthAdjust="spacingAndGlyphs">0.74</text>
<text x="532.1" y="1898.9" class="lg">;</text>
<text x="540.6" y="1898.9" class="lg it" textLength="8.2" lengthAdjust="spacingAndGlyphs">τ</text>
<text x="554.2" y="1898.9" class="lg" textLength="15" lengthAdjust="spacingAndGlyphs">=</text>
<text x="573.4" y="1898.9" class="lg" textLength="30.9" lengthAdjust="spacingAndGlyphs">0.67</text>
<text x="340.0" y="2300.5" class="xl" text-anchor="middle" textLength="122.5" lengthAdjust="spacingAndGlyphs">Time in Days</text>
<text transform="translate(25.8,2028.1) rotate(-90)" class="yl" text-anchor="middle">V<tspan class="up">(</tspan>t<tspan class="up">)</tspan></text>
<text transform="translate(331.0,2352.0) scale(1.04,1)" class="tag" text-anchor="middle">(g)</text>
<rect x="208.6" y="1927.6" width="175.0" height="224.3" fill="#fff"/>
<line x1="266.6" y1="1928.6" x2="266.6" y2="2151.9" stroke="#dcdcdc" stroke-width="1.4"/>
<line x1="324.6" y1="1928.6" x2="324.6" y2="2151.9" stroke="#dcdcdc" stroke-width="1.4"/>
<line x1="382.6" y1="1928.6" x2="382.6" y2="2151.9" stroke="#dcdcdc" stroke-width="1.4"/>
<line x1="208.6" y1="2119.8" x2="382.6" y2="2119.8" stroke="#dcdcdc" stroke-width="1.4"/>
<line x1="208.6" y1="2087.8" x2="382.6" y2="2087.8" stroke="#dcdcdc" stroke-width="1.4"/>
<line x1="208.6" y1="2055.7" x2="382.6" y2="2055.7" stroke="#dcdcdc" stroke-width="1.4"/>
<line x1="208.6" y1="2023.7" x2="382.6" y2="2023.7" stroke="#dcdcdc" stroke-width="1.4"/>
<line x1="208.6" y1="1991.6" x2="382.6" y2="1991.6" stroke="#dcdcdc" stroke-width="1.4"/>
<line x1="208.6" y1="1959.6" x2="382.6" y2="1959.6" stroke="#dcdcdc" stroke-width="1.4"/>
<path d="M208.6,1928.6 V2151.9 H382.6 M208.6,2151.9 v-2.6 M266.6,2151.9 v-2.6 M324.6,2151.9 v-2.6 M382.6,2151.9 v-2.6 M208.6,2151.9 h2.6 M208.6,2119.8 h2.6 M208.6,2087.8 h2.6 M208.6,2055.7 h2.6 M208.6,2023.7 h2.6 M208.6,1991.6 h2.6 M208.6,1959.6 h2.6" fill="none" stroke="#262626" stroke-width="1.7" stroke-linecap="butt"/>
<clipPath id="c9"><rect x="207.6" y="1927.1" width="176.0" height="226.3"/></clipPath>
<g clip-path="url(#c9)" fill="none" stroke-width="2.7" stroke-linejoin="round" stroke-linecap="round">
<path d="M208.60,2151.90 211.47,2133.35 216.72,2101.47 219.47,2085.75 222.38,2070.45 225.84,2053.83 229.47,2037.77 233.64,2020.76 237.28,2007.25 240.40,1996.84 242.51,1990.50 243.76,1987.04 245.37,1982.93 247.03,1979.09 248.40,1976.24 249.80,1973.61 251.24,1971.22 253.09,1968.57 254.61,1966.75 256.16,1965.21 258.16,1963.69 259.39,1963.03 261.06,1962.45 262.33,1962.27 263.20,1962.28 264.51,1962.50 265.85,1962.98 266.75,1963.45 268.59,1964.77 269.99,1966.11 270.94,1967.17 271.90,1968.37 273.36,1970.45 275.34,1973.74 277.37,1977.64 279.96,1983.42 282.08,1988.79 283.70,1993.26 285.90,1999.78 288.14,2006.86 292.18,2020.32 300.67,2049.63 303.85,2060.32 307.76,2072.90 311.11,2082.95 313.15,2088.71 315.22,2094.22 318.03,2101.12 319.45,2104.35 321.61,2108.90 323.07,2111.73 325.27,2115.68 327.51,2119.29 329.78,2122.59 332.84,2126.53 335.18,2129.15 337.55,2131.51 340.75,2134.28 343.19,2136.09 345.65,2137.69 348.99,2139.52 352.39,2141.05 354.97,2142.02 358.47,2143.12 362.02,2144.02 366.54,2144.94 370.22,2145.55 374.91,2146.21 382.60,2147.14" stroke="#00ff00"/>
<path d="M208.60,2151.90 211.47,2120.61 215.23,2081.53 217.38,2059.91 218.82,2046.35 220.43,2032.35 222.38,2017.18 224.04,2005.84 226.03,1994.02 228.00,1984.12 229.47,1977.73 230.35,1974.30 231.95,1968.69 233.15,1965.00 234.39,1961.57 235.68,1958.39 237.28,1954.91 238.67,1952.28 240.11,1949.91 241.30,1948.25 242.82,1946.56 244.08,1945.57 245.37,1944.95 246.03,1944.80 246.70,1944.75 247.37,1944.83 248.06,1945.03 248.75,1945.37 249.45,1945.86 250.52,1946.90 251.24,1947.82 251.97,1948.93 253.47,1951.78 254.61,1954.50 255.77,1957.77 257.36,1963.04 258.98,1969.34 260.22,1974.70 263.20,1989.03 267.21,2010.62 272.38,2040.28 275.84,2059.58 279.43,2077.96 281.01,2085.31 282.61,2092.24 284.24,2098.67 286.45,2106.48 288.14,2111.78 289.85,2116.63 291.59,2121.05 293.35,2125.04 295.75,2129.75 297.57,2132.83 298.80,2134.68 300.05,2136.37 301.30,2137.92 302.57,2139.32 305.14,2141.73 307.10,2143.23 309.09,2144.50 310.43,2145.24 313.15,2146.48 316.62,2147.68 320.89,2148.78 326.02,2149.78 332.84,2150.73 339.94,2151.36 345.65,2151.67 351.54,2151.85 359.35,2151.94 382.60,2151.78" stroke="#ff0000"/>
<path d="M208.60,2151.90 209.24,2144.69 211.47,2116.34 215.51,2066.94 217.96,2038.45 219.47,2022.44 220.86,2008.97 222.38,1995.75 223.53,1986.79 225.47,1973.49 227.19,1963.53 228.83,1955.52 229.69,1951.85 230.80,1947.59 231.95,1943.73 232.67,1941.62 233.64,1939.11 234.39,1937.50 235.42,1935.76 236.21,1934.80 236.74,1934.34 237.28,1934.04 238.11,1933.90 238.96,1934.15 239.53,1934.55 240.11,1935.15 240.70,1935.95 241.30,1936.96 241.90,1938.19 243.13,1941.33 244.40,1945.41 245.70,1950.50 246.70,1955.01 248.06,1961.96 250.16,1974.20 252.72,1990.78 259.80,2040.67 263.63,2066.39 264.95,2074.56 266.75,2084.94 268.59,2094.56 269.99,2101.19 271.42,2107.31 272.87,2112.94 274.35,2118.08 275.84,2122.76 277.88,2128.28 279.43,2131.91 281.54,2136.08 283.15,2138.72 284.79,2140.97 285.90,2142.28 287.01,2143.43 288.14,2144.45 289.28,2145.34 291.59,2146.81 293.95,2147.90 296.96,2148.89 301.30,2149.84 305.79,2150.54 311.79,2151.16 318.03,2151.56 323.80,2151.79 331.30,2151.97 340.75,2152.07 352.39,2152.08 382.60,2151.94" stroke="#0000ff"/>
<path d="M208.60,2151.90 209.24,2143.63 211.47,2111.19 214.87,2063.92 217.38,2030.37 219.47,2005.22 220.86,1990.26 221.91,1979.97 223.36,1967.24 224.74,1956.63 226.03,1948.09 227.39,1940.49 228.62,1935.03 229.47,1932.09 229.91,1930.86 230.58,1929.34 231.26,1928.25 231.95,1927.62 232.43,1927.48 232.91,1927.57 233.40,1927.89 233.89,1928.46 234.39,1929.27 235.42,1931.69 236.21,1934.22 237.01,1937.39 238.11,1942.65 238.96,1947.40 239.82,1952.83 241.30,1963.25 243.45,1980.35 245.05,1994.05 250.16,2039.83 253.09,2064.51 255.77,2084.46 258.16,2099.45 259.80,2108.21 261.06,2114.15 262.33,2119.55 264.07,2125.94 265.85,2131.42 267.66,2136.02 269.05,2138.90 269.99,2140.56 270.94,2142.03 272.38,2143.91 273.36,2144.97 274.35,2145.89 275.34,2146.68 276.35,2147.35 278.39,2148.41 281.01,2149.32 283.15,2149.84 287.57,2150.62 291.01,2151.02 298.80,2151.53 311.11,2151.83 330.54,2151.92 382.60,2151.94" stroke="#ff00ff"/>
</g>
<text transform="translate(208.6,2171.5) scale(1.08,1)" font-size="13.6" text-anchor="middle" class="tk">0</text>
<text transform="translate(266.6,2171.5) scale(1.08,1)" font-size="13.6" text-anchor="middle" class="tk">0.1</text>
<text transform="translate(324.6,2171.5) scale(1.08,1)" font-size="13.6" text-anchor="middle" class="tk">0.2</text>
<text transform="translate(382.6,2171.5) scale(1.08,1)" font-size="13.6" text-anchor="middle" class="tk">0.3</text>
<text transform="translate(204.0,2158.1) scale(1.08,1)" font-size="13.6" text-anchor="end" class="tk">0</text>
<text transform="translate(204.0,2126.0) scale(1.08,1)" font-size="13.6" text-anchor="end" class="tk">1</text>
<text transform="translate(204.0,2094.0) scale(1.08,1)" font-size="13.6" text-anchor="end" class="tk">2</text>
<text transform="translate(204.0,2061.9) scale(1.08,1)" font-size="13.6" text-anchor="end" class="tk">3</text>
<text transform="translate(204.0,2029.9) scale(1.08,1)" font-size="13.6" text-anchor="end" class="tk">4</text>
<text transform="translate(204.0,1997.8) scale(1.08,1)" font-size="13.6" text-anchor="end" class="tk">5</text>
<text transform="translate(204.0,1965.8) scale(1.08,1)" font-size="13.6" text-anchor="end" class="tk">6</text>
<rect x="49.5" y="1793.2" width="22.4" height="465.1" fill="none" stroke="#000" stroke-width="1.5" stroke-dasharray="9.5 5.5"/>
<line x1="71.9" y1="1793.2" x2="194.5" y2="1915.0" stroke="#000" stroke-width="1.9"/><polygon points="203.4,1923.8 185.7,1916.1 194.5,1915.0 195.6,1906.1" fill="#000"/>
<line x1="72.2" y1="2258.3" x2="187.3" y2="2172.3" stroke="#000" stroke-width="1.9"/><polygon points="197.3,2164.8 187.1,2181.2 187.3,2172.3 178.7,2170.0" fill="#000"/>
<line x1="908.3" y1="1803.1" x2="908.3" y2="2251.9" stroke="#dcdcdc" stroke-width="1.4"/>
<line x1="1021.9" y1="1803.1" x2="1021.9" y2="2251.9" stroke="#dcdcdc" stroke-width="1.4"/>
<line x1="1135.6" y1="1803.1" x2="1135.6" y2="2251.9" stroke="#dcdcdc" stroke-width="1.4"/>
<line x1="1249.2" y1="1803.1" x2="1249.2" y2="2251.9" stroke="#dcdcdc" stroke-width="1.4"/>
<line x1="1362.9" y1="1803.1" x2="1362.9" y2="2251.9" stroke="#dcdcdc" stroke-width="1.4"/>
<line x1="794.6" y1="2210.6" x2="1362.9" y2="2210.6" stroke="#dcdcdc" stroke-width="1.4"/>
<line x1="794.6" y1="2169.3" x2="1362.9" y2="2169.3" stroke="#dcdcdc" stroke-width="1.4"/>
<line x1="794.6" y1="2128.0" x2="1362.9" y2="2128.0" stroke="#dcdcdc" stroke-width="1.4"/>
<line x1="794.6" y1="2086.7" x2="1362.9" y2="2086.7" stroke="#dcdcdc" stroke-width="1.4"/>
<line x1="794.6" y1="2045.5" x2="1362.9" y2="2045.5" stroke="#dcdcdc" stroke-width="1.4"/>
<line x1="794.6" y1="2004.2" x2="1362.9" y2="2004.2" stroke="#dcdcdc" stroke-width="1.4"/>
<line x1="794.6" y1="1962.9" x2="1362.9" y2="1962.9" stroke="#dcdcdc" stroke-width="1.4"/>
<line x1="794.6" y1="1921.6" x2="1362.9" y2="1921.6" stroke="#dcdcdc" stroke-width="1.4"/>
<line x1="794.6" y1="1880.3" x2="1362.9" y2="1880.3" stroke="#dcdcdc" stroke-width="1.4"/>
<line x1="794.6" y1="1839.0" x2="1362.9" y2="1839.0" stroke="#dcdcdc" stroke-width="1.4"/>
<path d="M794.6,1803.1 V2251.9 H1362.9 M794.6,2251.9 v-6.0 M908.3,2251.9 v-6.0 M1021.9,2251.9 v-6.0 M1135.6,2251.9 v-6.0 M1249.2,2251.9 v-6.0 M1362.9,2251.9 v-6.0 M794.6,2251.9 h6.0 M794.6,2210.6 h6.0 M794.6,2169.3 h6.0 M794.6,2128.0 h6.0 M794.6,2086.7 h6.0 M794.6,2045.5 h6.0 M794.6,2004.2 h6.0 M794.6,1962.9 h6.0 M794.6,1921.6 h6.0 M794.6,1880.3 h6.0 M794.6,1839.0 h6.0" fill="none" stroke="#262626" stroke-width="1.8" stroke-linecap="butt"/>
<clipPath id="c10"><rect x="793.6" y="1801.6" width="570.3" height="451.8"/></clipPath>
<g clip-path="url(#c10)" fill="none" stroke-width="2.8" stroke-linejoin="round" stroke-linecap="round">
<path d="M794.60,2251.90 795.49,2252.34 796.41,2252.44 797.35,2252.24 798.21,2251.83 799.09,2251.22 800.10,2250.32 801.14,2249.23 802.56,2247.52 807.15,2241.27 811.79,2234.50 816.25,2227.72 827.89,2209.58 832.29,2203.04 836.10,2197.64 841.04,2191.05 846.54,2184.23 851.37,2178.67 854.02,2175.77 857.59,2172.05 863.33,2166.42 869.10,2161.15 875.86,2155.38 884.81,2148.25 893.69,2141.62 901.57,2136.01 912.96,2128.25 923.38,2121.41 934.01,2114.61 943.75,2108.50 967.86,2093.65 1004.78,2071.25 1048.27,2045.15 1067.06,2034.03 1088.95,2021.32 1111.40,2008.65 1130.04,1998.44 1146.32,1989.74 1167.98,1978.43 1189.62,1967.39 1213.70,1955.36 1239.14,1942.90 1266.01,1929.94 1362.90,1883.72" stroke="#00ff00"/>
<path d="M794.60,2251.90 795.39,2252.04 796.10,2251.94 796.93,2251.60 797.78,2251.03 799.31,2249.55 800.33,2248.32 801.61,2246.57 804.04,2242.86 808.51,2235.64 814.98,2224.88 827.31,2204.02 831.06,2197.96 834.17,2193.11 839.89,2184.71 845.07,2177.66 849.56,2171.96 854.83,2165.74 859.84,2160.27 865.72,2154.33 869.10,2151.11 872.91,2147.63 878.88,2142.43 886.61,2136.10 895.23,2129.44 901.98,2124.45 912.08,2117.24 920.59,2111.35 932.52,2103.28 953.48,2089.40 995.14,2062.22 1047.44,2028.42 1068.82,2014.84 1086.13,2004.07 1103.42,1993.57 1120.60,1983.43 1138.63,1973.09 1158.71,1961.88 1179.86,1950.36 1205.95,1936.45 1228.26,1924.77 1253.10,1911.92 1362.90,1855.58" stroke="#ff0000"/>
<path d="M794.60,2251.90 795.29,2251.83 795.80,2251.66 796.62,2251.19 797.25,2250.69 798.21,2249.72 799.09,2248.66 801.14,2245.69 804.04,2240.83 809.77,2230.76 826.36,2201.05 830.06,2194.67 833.54,2188.88 838.53,2181.01 842.91,2174.54 848.04,2167.44 853.22,2160.79 858.15,2154.91 863.92,2148.53 870.04,2142.28 876.19,2136.43 883.04,2130.33 891.04,2123.65 899.16,2117.25 908.21,2110.43 916.95,2104.06 926.21,2097.46 969.06,2067.45 1027.55,2025.80 1040.92,2016.36 1056.66,2005.38 1075.09,1992.77 1091.80,1981.62 1109.39,1970.21 1127.92,1958.57 1147.43,1946.71 1171.51,1932.53 1194.58,1919.32 1220.26,1904.97 1246.07,1890.84 1282.25,1871.39 1317.91,1852.47 1362.90,1828.77" stroke="#0000ff"/>
<path d="M794.60,2251.90 795.19,2251.70 795.70,2251.42 796.31,2250.96 797.04,2250.26 798.54,2248.40 800.33,2245.63 802.93,2240.98 824.49,2200.01 830.86,2188.39 835.67,2180.12 839.66,2173.64 844.83,2165.74 849.56,2159.00 854.56,2152.36 860.70,2144.85 865.72,2139.19 871.31,2133.30 878.54,2126.24 884.81,2120.55 891.41,2114.92 898.76,2108.98 906.52,2102.96 914.72,2096.79 951.83,2069.45 969.66,2056.09 1025.25,2013.38 1042.54,2000.30 1056.66,1989.80 1075.09,1976.40 1092.75,1963.91 1109.39,1952.48 1123.72,1942.90 1138.63,1933.18 1148.54,1926.84 1162.16,1918.27 1176.26,1909.55 1203.40,1893.12 1233.67,1875.24 1261.67,1859.05 1294.39,1840.52 1325.98,1823.00 1362.90,1802.97" stroke="#ff00ff"/>
</g>
<text transform="translate(794.6,2276.5) scale(1.08,1)" font-size="16.2" text-anchor="middle" class="tk">0</text>
<text transform="translate(908.3,2276.5) scale(1.08,1)" font-size="16.2" text-anchor="middle" class="tk">10</text>
<text transform="translate(1021.9,2276.5) scale(1.08,1)" font-size="16.2" text-anchor="middle" class="tk">20</text>
<text transform="translate(1135.6,2276.5) scale(1.08,1)" font-size="16.2" text-anchor="middle" class="tk">30</text>
<text transform="translate(1249.2,2276.5) scale(1.08,1)" font-size="16.2" text-anchor="middle" class="tk">40</text>
<text transform="translate(1362.9,2276.5) scale(1.08,1)" font-size="16.2" text-anchor="middle" class="tk">50</text>
<text transform="translate(786.3,2259.0) scale(1.08,1)" font-size="16.2" text-anchor="end" class="tk">0</text>
<text transform="translate(786.3,2217.7) scale(1.08,1)" font-size="16.2" text-anchor="end" class="tk">50</text>
<text transform="translate(786.3,2176.5) scale(1.08,1)" font-size="16.2" text-anchor="end" class="tk">100</text>
<text transform="translate(786.3,2135.2) scale(1.08,1)" font-size="16.2" text-anchor="end" class="tk">150</text>
<text transform="translate(786.3,2093.9) scale(1.08,1)" font-size="16.2" text-anchor="end" class="tk">200</text>
<text transform="translate(786.3,2052.6) scale(1.08,1)" font-size="16.2" text-anchor="end" class="tk">250</text>
<text transform="translate(786.3,2011.3) scale(1.08,1)" font-size="16.2" text-anchor="end" class="tk">300</text>
<text transform="translate(786.3,1970.0) scale(1.08,1)" font-size="16.2" text-anchor="end" class="tk">350</text>
<text transform="translate(786.3,1928.7) scale(1.08,1)" font-size="16.2" text-anchor="end" class="tk">400</text>
<text transform="translate(786.3,1887.4) scale(1.08,1)" font-size="16.2" text-anchor="end" class="tk">450</text>
<text transform="translate(786.3,1846.2) scale(1.08,1)" font-size="16.2" text-anchor="end" class="tk">500</text>
<rect x="807.9" y="1817.2" width="202.1" height="91.1" fill="#fff" stroke="#262626" stroke-width="1.7"/>
<line x1="813.2" y1="1830.2" x2="865.3" y2="1830.2" stroke="#00ff00" stroke-width="2.6"/>
<text x="869.6" y="1835.0" class="lg it" textLength="9.4" lengthAdjust="spacingAndGlyphs">η</text>
<text x="882.9" y="1835.0" class="lg" textLength="15" lengthAdjust="spacingAndGlyphs">=</text>
<text x="902.0" y="1835.0" class="lg" textLength="30.6" lengthAdjust="spacingAndGlyphs">0.89</text>
<text x="932.3" y="1835.0" class="lg">;</text>
<text x="940.8" y="1835.0" class="lg it" textLength="8.2" lengthAdjust="spacingAndGlyphs">τ</text>
<text x="954.4" y="1835.0" class="lg" textLength="15" lengthAdjust="spacingAndGlyphs">=</text>
<text x="973.6" y="1835.0" class="lg" textLength="30.9" lengthAdjust="spacingAndGlyphs">0.97</text>
<line x1="813.2" y1="1851.6" x2="865.3" y2="1851.6" stroke="#ff0000" stroke-width="2.6"/>
<text x="869.6" y="1856.4" class="lg it" textLength="9.4" lengthAdjust="spacingAndGlyphs">η</text>
<text x="882.9" y="1856.4" class="lg" textLength="15" lengthAdjust="spacingAndGlyphs">=</text>
<text x="902.0" y="1856.4" class="lg" textLength="30.6" lengthAdjust="spacingAndGlyphs">0.84</text>
<text x="932.3" y="1856.4" class="lg">;</text>
<text x="940.8" y="1856.4" class="lg it" textLength="8.2" lengthAdjust="spacingAndGlyphs">τ</text>
<text x="954.4" y="1856.4" class="lg" textLength="15" lengthAdjust="spacingAndGlyphs">=</text>
<text x="973.6" y="1856.4" class="lg" textLength="30.9" lengthAdjust="spacingAndGlyphs">0.87</text>
<line x1="813.2" y1="1873.0" x2="865.3" y2="1873.0" stroke="#0000ff" stroke-width="2.6"/>
<text x="869.6" y="1877.8" class="lg it" textLength="9.4" lengthAdjust="spacingAndGlyphs">η</text>
<text x="882.9" y="1877.8" class="lg" textLength="15" lengthAdjust="spacingAndGlyphs">=</text>
<text x="902.0" y="1877.8" class="lg" textLength="30.6" lengthAdjust="spacingAndGlyphs">0.79</text>
<text x="932.3" y="1877.8" class="lg">;</text>
<text x="940.8" y="1877.8" class="lg it" textLength="8.2" lengthAdjust="spacingAndGlyphs">τ</text>
<text x="954.4" y="1877.8" class="lg" textLength="15" lengthAdjust="spacingAndGlyphs">=</text>
<text x="973.6" y="1877.8" class="lg" textLength="30.9" lengthAdjust="spacingAndGlyphs">0.77</text>
<line x1="813.2" y1="1894.4" x2="865.3" y2="1894.4" stroke="#ff00ff" stroke-width="2.6"/>
<text x="869.6" y="1899.2" class="lg it" textLength="9.4" lengthAdjust="spacingAndGlyphs">η</text>
<text x="882.9" y="1899.2" class="lg" textLength="15" lengthAdjust="spacingAndGlyphs">=</text>
<text x="902.0" y="1899.2" class="lg" textLength="30.6" lengthAdjust="spacingAndGlyphs">0.74</text>
<text x="932.3" y="1899.2" class="lg">;</text>
<text x="940.8" y="1899.2" class="lg it" textLength="8.2" lengthAdjust="spacingAndGlyphs">τ</text>
<text x="954.4" y="1899.2" class="lg" textLength="15" lengthAdjust="spacingAndGlyphs">=</text>
<text x="973.6" y="1899.2" class="lg" textLength="30.9" lengthAdjust="spacingAndGlyphs">0.67</text>
<text x="1079.0" y="2300.5" class="xl" text-anchor="middle" textLength="122.5" lengthAdjust="spacingAndGlyphs">Time in Days</text>
<text transform="translate(745.1,2028.3) rotate(-90)" class="yl" text-anchor="middle">R<tspan class="up">(</tspan>t<tspan class="up">)</tspan></text>
<text transform="translate(1070.0,2352.0) scale(1.04,1)" class="tag" text-anchor="middle">(h)</text>
</svg>
</body></html>
